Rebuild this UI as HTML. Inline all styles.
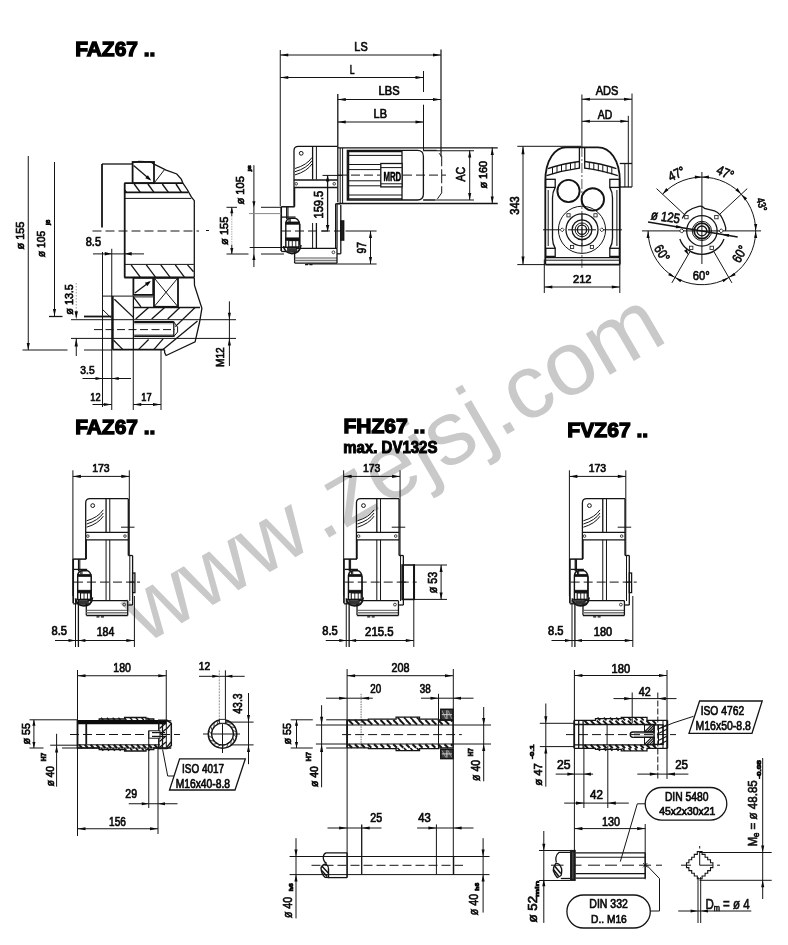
<!DOCTYPE html>
<html><head><meta charset="utf-8"><title>FAZ67 / FHZ67 / FVZ67</title>
<style>
html,body{margin:0;padding:0;background:#fff;}
body{width:788px;height:945px;overflow:hidden;font-family:"Liberation Sans",sans-serif;}
svg{display:block;}
svg text{font-family:"Liberation Sans",sans-serif;}

</style></head><body>
<svg width="788" height="945" viewBox="0 0 788 945" style="filter:grayscale(1)">
<rect x="0" y="0" width="788" height="945" fill="#ffffff"/>
<g transform="translate(144.5,644.7) rotate(-30.1)" fill="#c9c9c9"><text x="0" y="0" font-size="91">www</text><text x="205.3" y="0" font-size="90.4">.zejsj.com</text></g>
<text x="75.15" y="55.75" font-size="20.11" textLength="80.2" lengthAdjust="spacingAndGlyphs" fill="#000" font-weight="bold" stroke="#000" stroke-width="1.3">FAZ67 ..</text>
<text x="75.15" y="433.75" font-size="19.97" textLength="80.2" lengthAdjust="spacingAndGlyphs" fill="#000" font-weight="bold" stroke="#000" stroke-width="1.3">FAZ67 ..</text>
<text x="343.45" y="433.15" font-size="19.97" textLength="81.9" lengthAdjust="spacingAndGlyphs" fill="#000" font-weight="bold" stroke="#000" stroke-width="1.3">FHZ67 ..</text>
<text x="343.3" y="452.9" font-size="15.92" textLength="94.1" lengthAdjust="spacingAndGlyphs" fill="#000" font-weight="bold" stroke="#000" stroke-width="1.0">max. DV132S</text>
<text x="567.35" y="436.55" font-size="20.25" textLength="80.9" lengthAdjust="spacingAndGlyphs" fill="#000" font-weight="bold" stroke="#000" stroke-width="1.3">FVZ67 ..</text>
<line x1="28.25" y1="156" x2="28.25" y2="350" stroke="#141414" stroke-width="1.0"/>
<polygon points="28.25,350 26.7,343 29.8,343" fill="#0a0a0a"/>
<line x1="22.5" y1="350" x2="67.5" y2="350" stroke="#141414" stroke-width="1.0"/>
<line x1="84" y1="350" x2="112.5" y2="350" stroke="#141414" stroke-width="1.0"/>
<line x1="54.5" y1="162" x2="54.5" y2="316" stroke="#141414" stroke-width="1.0"/>
<polygon points="54.5,316 52.95,309 56.05,309" fill="#0a0a0a"/>
<line x1="49" y1="316.5" x2="62.5" y2="316.5" stroke="#141414" stroke-width="1.3"/>
<text transform="translate(23.65,249.55) rotate(-90)" font-size="10.2" textLength="28" lengthAdjust="spacingAndGlyphs" fill="#0a0a0a" stroke="#0a0a0a" stroke-width="0.7">ø 155</text>
<text transform="translate(45.25,257.15) rotate(-90)" font-size="11.73" textLength="26.3" lengthAdjust="spacingAndGlyphs" fill="#0a0a0a" stroke="#0a0a0a" stroke-width="0.7">ø 105</text>
<text transform="translate(49.65,225.05) rotate(-90)" font-size="5.31" textLength="5.2" lengthAdjust="spacingAndGlyphs" fill="#0a0a0a" font-weight="bold" stroke="#0a0a0a" stroke-width="0.7">j6</text>
<line x1="102" y1="164" x2="102" y2="227.5" stroke="#141414" stroke-width="1.8"/>
<line x1="102" y1="164" x2="132.6" y2="164" stroke="#141414" stroke-width="1.3"/>
<rect x="132.6" y="162" width="21.4" height="21.2" rx="0" fill="none" stroke="#141414" stroke-width="1.8"/>
<line x1="133.6" y1="165.5" x2="150" y2="179.5" stroke="#141414" stroke-width="1.3"/>
<polygon points="151.2,180.6 145.29,178.31 147.92,175.17" fill="#0a0a0a"/>
<polyline points="132.6,162.6 138.7,161.4 150.9,161.9 154,164.1 166.1,170.2 176.8,174 181.4,179.4 182.9,183.2 187.5,190 191.3,196.9 194.3,200.7 194.3,277.5" fill="none" stroke="#141414" stroke-width="1.3" stroke-linejoin="miter"/>
<line x1="154" y1="183.2" x2="164.6" y2="169.5" stroke="#141414" stroke-width="1.0"/>
<line x1="124.3" y1="183.2" x2="182.9" y2="183.2" stroke="#141414" stroke-width="1.8"/>
<line x1="124.3" y1="192.3" x2="188.2" y2="192.3" stroke="#141414" stroke-width="1.8"/>
<line x1="125" y1="198.4" x2="191.3" y2="198.4" stroke="#141414" stroke-width="1.0"/>
<line x1="134.2" y1="184" x2="140.3" y2="192.3" stroke="#141414" stroke-width="1.4"/>
<line x1="147.9" y1="184" x2="154" y2="192.3" stroke="#141414" stroke-width="1.4"/>
<line x1="162.3" y1="184" x2="168.4" y2="192.3" stroke="#141414" stroke-width="1.4"/>
<line x1="176" y1="184" x2="181.4" y2="192.3" stroke="#141414" stroke-width="1.4"/>
<line x1="124.3" y1="189.3" x2="126.5" y2="192.3" stroke="#141414" stroke-width="1.2"/>
<line x1="124.7" y1="183.2" x2="124.7" y2="277.5" stroke="#141414" stroke-width="1.8"/>
<line x1="92.5" y1="231" x2="199" y2="231" stroke="#141414" stroke-width="1.0" stroke-dasharray="9 4"/>
<line x1="206" y1="230.5" x2="209" y2="230.5" stroke="#141414" stroke-width="1.0"/>
<text x="85.75" y="246.25" font-size="12.15" textLength="15.3" lengthAdjust="spacingAndGlyphs" fill="#0a0a0a" stroke="#0a0a0a" stroke-width="0.7">8.5</text>
<line x1="93" y1="253.9" x2="144" y2="253.9" stroke="#141414" stroke-width="1.0"/>
<polygon points="111.75,253.75 104.75,255.4 104.75,252.1" fill="#0a0a0a"/>
<polygon points="124.7,253.75 131.7,252.1 131.7,255.4" fill="#0a0a0a"/>
<line x1="102.5" y1="252" x2="102.5" y2="407" stroke="#141414" stroke-width="1.0"/>
<line x1="111.75" y1="248.75" x2="111.75" y2="410" stroke="#141414" stroke-width="1.0"/>
<line x1="133.25" y1="350" x2="133.25" y2="410" stroke="#141414" stroke-width="1.0"/>
<line x1="161" y1="350" x2="161" y2="410" stroke="#141414" stroke-width="1.0"/>
<line x1="125" y1="264.4" x2="193.8" y2="264.4" stroke="#141414" stroke-width="1.0"/>
<line x1="124.3" y1="277.5" x2="194" y2="277.5" stroke="#141414" stroke-width="1.8"/>
<line x1="131.1" y1="264.9" x2="140.3" y2="277.1" stroke="#141414" stroke-width="1.3"/>
<line x1="146.3" y1="264.9" x2="155.5" y2="277.1" stroke="#141414" stroke-width="1.3"/>
<line x1="160.8" y1="264.9" x2="170" y2="277.1" stroke="#141414" stroke-width="1.3"/>
<line x1="175.3" y1="264.9" x2="184.4" y2="277.1" stroke="#141414" stroke-width="1.3"/>
<line x1="187.5" y1="264.9" x2="193.5" y2="271.8" stroke="#141414" stroke-width="1.3"/>
<polyline points="194.3,277.5 194.5,285.5 201.9,308.3 199.6,322 195.1,341.8 166.1,355.5 164.6,352.5 164.6,350" fill="none" stroke="#141414" stroke-width="1.3" stroke-linejoin="miter"/>
<rect x="133.4" y="277.8" width="19.8" height="17.1" rx="0" fill="none" stroke="#141414" stroke-width="1.8"/>
<line x1="134.9" y1="293.1" x2="149.5" y2="282" stroke="#141414" stroke-width="1.3"/>
<polygon points="150.9,280.9 147.34,286.15 144.87,282.87" fill="#0a0a0a"/>
<rect x="154" y="277.8" width="24" height="29" rx="0" fill="none" stroke="#141414" stroke-width="1.8"/>
<line x1="154" y1="277.8" x2="178" y2="306.8" stroke="#141414" stroke-width="1.0"/>
<line x1="154" y1="306.8" x2="178" y2="277.8" stroke="#141414" stroke-width="1.0"/>
<line x1="133.4" y1="296.9" x2="141" y2="306.8" stroke="#141414" stroke-width="1.3"/>
<line x1="133.4" y1="296.9" x2="153.2" y2="296.9" stroke="#141414" stroke-width="1.0"/>
<line x1="102.2" y1="296.1" x2="133.4" y2="296.1" stroke="#141414" stroke-width="1.0"/>
<line x1="112.8" y1="296.1" x2="112.8" y2="349.7" stroke="#141414" stroke-width="1.8"/>
<line x1="114.4" y1="299.2" x2="133.4" y2="317.4" stroke="#141414" stroke-width="1.3"/>
<line x1="102.9" y1="309.8" x2="110.6" y2="317.4" stroke="#141414" stroke-width="1.0"/>
<line x1="84" y1="316.5" x2="111.5" y2="316.5" stroke="#141414" stroke-width="1.8"/>
<line x1="133.4" y1="296.1" x2="133.4" y2="349.7" stroke="#141414" stroke-width="1.3"/>
<line x1="133.4" y1="307.5" x2="200" y2="307.5" stroke="#141414" stroke-width="1.3"/>
<line x1="148.6" y1="307.5" x2="135.7" y2="319" stroke="#141414" stroke-width="1.3"/>
<line x1="164.6" y1="307.5" x2="151.7" y2="319" stroke="#141414" stroke-width="1.3"/>
<line x1="179.8" y1="307.5" x2="167.7" y2="319" stroke="#141414" stroke-width="1.3"/>
<line x1="195.1" y1="307.5" x2="175.3" y2="326.6" stroke="#141414" stroke-width="1.3"/>
<line x1="197.5" y1="321" x2="163" y2="349.5" stroke="#141414" stroke-width="1.3"/>
<line x1="71" y1="319.7" x2="236" y2="319.7" stroke="#141414" stroke-width="1.0"/>
<line x1="71" y1="338.4" x2="236" y2="338.4" stroke="#141414" stroke-width="1.0"/>
<line x1="134.2" y1="322" x2="173.8" y2="322" stroke="#141414" stroke-width="1.8"/>
<line x1="134.2" y1="336.2" x2="173.8" y2="336.2" stroke="#141414" stroke-width="1.8"/>
<line x1="134.2" y1="323.8" x2="173.8" y2="323.8" stroke="#666" stroke-width="0.6"/>
<line x1="134.2" y1="334.6" x2="173.8" y2="334.6" stroke="#666" stroke-width="0.6"/>
<line x1="173.8" y1="321.5" x2="173.8" y2="337" stroke="#141414" stroke-width="1.3"/>
<polyline points="173.8,322 177.6,327 177.6,332 173.8,336.5" fill="none" stroke="#141414" stroke-width="1.0" stroke-linejoin="miter"/>
<line x1="94" y1="329.6" x2="175" y2="329.6" stroke="#141414" stroke-width="1.0" stroke-dasharray="8 3.5"/>
<line x1="112.8" y1="349.7" x2="164.6" y2="349.7" stroke="#141414" stroke-width="1.8"/>
<line x1="113.6" y1="340.3" x2="122.7" y2="349.4" stroke="#141414" stroke-width="1.3"/>
<line x1="148.6" y1="339.5" x2="138.7" y2="349.4" stroke="#141414" stroke-width="1.3"/>
<line x1="163.1" y1="338.8" x2="154" y2="349.4" stroke="#141414" stroke-width="1.3"/>
<text transform="translate(73.25,314.65) rotate(-90)" font-size="11.03" textLength="30.5" lengthAdjust="spacingAndGlyphs" fill="#0a0a0a" stroke="#0a0a0a" stroke-width="0.7">ø 13.5</text>
<line x1="76.25" y1="283" x2="76.25" y2="319" stroke="#777" stroke-width="0.7" stroke-dasharray="1.5 1.5"/>
<polygon points="76.25,319.3 74.6,311.3 77.9,311.3" fill="#0a0a0a"/>
<polygon points="76.25,338.6 77.9,346.6 74.6,346.6" fill="#0a0a0a"/>
<line x1="76.25" y1="338" x2="76.25" y2="356" stroke="#141414" stroke-width="1.0"/>
<text x="80.35" y="373.65" font-size="11.59" textLength="14.3" lengthAdjust="spacingAndGlyphs" fill="#0a0a0a" stroke="#0a0a0a" stroke-width="0.7">3.5</text>
<line x1="82.5" y1="378.5" x2="131" y2="378.5" stroke="#141414" stroke-width="1.0"/>
<polygon points="102.5,378.5 95.5,380.05 95.5,376.95" fill="#0a0a0a"/>
<polygon points="111.75,378.5 118.75,376.95 118.75,380.05" fill="#0a0a0a"/>
<text x="90.35" y="400.9" font-size="11.24" textLength="10.3" lengthAdjust="spacingAndGlyphs" fill="#0a0a0a" stroke="#0a0a0a" stroke-width="0.7">12</text>
<text x="141.35" y="400.9" font-size="11.24" textLength="10.3" lengthAdjust="spacingAndGlyphs" fill="#0a0a0a" stroke="#0a0a0a" stroke-width="0.7">17</text>
<line x1="92.5" y1="404.5" x2="111.75" y2="404.5" stroke="#141414" stroke-width="1.0"/>
<polygon points="111.75,404.5 103.75,406.05 103.75,402.95" fill="#0a0a0a"/>
<line x1="133.25" y1="404.5" x2="161" y2="404.5" stroke="#141414" stroke-width="1.0"/>
<polygon points="133.25,404.5 141.25,402.95 141.25,406.05" fill="#0a0a0a"/>
<polygon points="161,404.5 153,406.05 153,402.95" fill="#0a0a0a"/>
<line x1="229.4" y1="301.3" x2="229.4" y2="366" stroke="#141414" stroke-width="1.0"/>
<polygon points="229.4,319.7 227.85,312.7 230.95,312.7" fill="#0a0a0a"/>
<polygon points="229.4,338.4 230.95,345.4 227.85,345.4" fill="#0a0a0a"/>
<text transform="translate(223.95,367.05) rotate(-90)" font-size="11.45" textLength="19.7" lengthAdjust="spacingAndGlyphs" fill="#0a0a0a" stroke="#0a0a0a" stroke-width="0.7">M12</text>
<path d="M294,206.6 L294,150.5 Q294,146.4 298.5,146.4 L337.6,146.4" fill="none" stroke="#141414" stroke-width="1.3"/>
<line x1="312.6" y1="146.4" x2="312.6" y2="179.6" stroke="#141414" stroke-width="1.3"/>
<line x1="316.4" y1="146.4" x2="316.4" y2="179.6" stroke="#141414" stroke-width="1.0"/>
<line x1="312.6" y1="223" x2="312.6" y2="248" stroke="#141414" stroke-width="1.0"/>
<line x1="316.4" y1="223" x2="316.4" y2="248" stroke="#141414" stroke-width="1.3"/>
<circle cx="301.2" cy="153.3" r="1.9" fill="none" stroke="#141414" stroke-width="1.0"/>
<path d="M295,168.5 Q307,165 312,157.5" fill="none" stroke="#141414" stroke-width="1.0"/>
<path d="M295,171.7 Q307,168.2 312,160.7" fill="none" stroke="#141414" stroke-width="1.0"/>
<path d="M295,174.9 Q307,171.4 312,163.9" fill="none" stroke="#141414" stroke-width="1.0"/>
<line x1="294" y1="180" x2="337.6" y2="180" stroke="#141414" stroke-width="1.3"/>
<line x1="294" y1="187.5" x2="337.6" y2="187.5" stroke="#141414" stroke-width="1.3"/>
<circle cx="296.2" cy="183.8" r="1.3" fill="none" stroke="#141414" stroke-width="0.8"/>
<circle cx="334.2" cy="183.8" r="1.3" fill="none" stroke="#141414" stroke-width="0.8"/>
<line x1="294.6" y1="187.5" x2="294.6" y2="206.6" stroke="#141414" stroke-width="1.3"/>
<line x1="281.2" y1="206.6" x2="281.2" y2="251" stroke="#141414" stroke-width="1.7"/>
<line x1="281.2" y1="206.8" x2="294.6" y2="206.8" stroke="#141414" stroke-width="1.5"/>
<line x1="286.7" y1="206.8" x2="286.7" y2="219" stroke="#141414" stroke-width="1.3"/>
<line x1="288" y1="206.8" x2="288" y2="219" stroke="#141414" stroke-width="1.0"/>
<line x1="282" y1="217.1" x2="295.5" y2="217.1" stroke="#141414" stroke-width="1.3"/>
<line x1="281.2" y1="251.5" x2="286" y2="251.5" stroke="#141414" stroke-width="1.3"/>
<path d="M285.8,247 L285.8,223 Q286.5,218.8 290,218.4 L295.5,218.4 Q299,219.5 299.6,224 L299.6,245" fill="none" stroke="#141414" stroke-width="1.4"/>
<rect x="285.8" y="221.9" width="13.8" height="2.5" rx="0" fill="#111" stroke="#141414" stroke-width="0.5"/>
<rect x="285.8" y="237.8" width="13.8" height="2.8" rx="0" fill="#111" stroke="#141414" stroke-width="0.5"/>
<line x1="289" y1="218.5" x2="289" y2="222" stroke="#141414" stroke-width="1.0"/>
<line x1="290.2" y1="218.5" x2="290.2" y2="222" stroke="#141414" stroke-width="1.0"/>
<rect x="288.7" y="240.6" width="10.1" height="6.4" rx="0" fill="none" stroke="#141414" stroke-width="1.1"/>
<line x1="292.3" y1="240.6" x2="292.3" y2="247" stroke="#141414" stroke-width="0.9"/>
<line x1="295.8" y1="240.6" x2="295.8" y2="247" stroke="#141414" stroke-width="0.9"/>
<path d="M283.6,246 Q284.5,253 292,253.6 Q300,253.6 300.9,245" fill="none" stroke="#141414" stroke-width="1.8"/>
<rect x="287.3" y="248.3" width="9.7" height="4" rx="0" fill="#333" stroke="#141414" stroke-width="0.5"/>
<line x1="284.5" y1="247.3" x2="299.5" y2="247.3" stroke="#141414" stroke-width="1.5"/>
<line x1="299.9" y1="224" x2="299.9" y2="247" stroke="#141414" stroke-width="1.0"/>
<line x1="296" y1="248.4" x2="337" y2="248.4" stroke="#141414" stroke-width="1.3"/>
<line x1="294.6" y1="251.5" x2="294.6" y2="263" stroke="#141414" stroke-width="1.3"/>
<line x1="294.6" y1="258" x2="337" y2="258" stroke="#555" stroke-width="1.0"/>
<line x1="294.6" y1="260.5" x2="337" y2="260.5" stroke="#777" stroke-width="1.6"/>
<line x1="294.6" y1="263.2" x2="337" y2="263.2" stroke="#141414" stroke-width="1.3"/>
<line x1="337" y1="248.4" x2="337" y2="263.2" stroke="#141414" stroke-width="1.3"/>
<circle cx="333.4" cy="252.3" r="1.4" fill="none" stroke="#141414" stroke-width="0.8"/>
<line x1="305" y1="264.6" x2="313" y2="264.6" stroke="#141414" stroke-width="1.4" stroke-dasharray="3 1.5"/>
<line x1="282" y1="231" x2="345" y2="231" stroke="#141414" stroke-width="1.0" stroke-dasharray="9 4"/>
<line x1="337" y1="203.5" x2="337" y2="248.4" stroke="#141414" stroke-width="1.3"/>
<line x1="340.8" y1="205" x2="340.8" y2="253.8" stroke="#141414" stroke-width="1.3"/>
<line x1="335.5" y1="203.8" x2="340.8" y2="203.8" stroke="#141414" stroke-width="1.3"/>
<line x1="335.5" y1="203.8" x2="335.5" y2="248.4" stroke="#141414" stroke-width="1.0"/>
<line x1="337" y1="253.8" x2="340.8" y2="253.8" stroke="#141414" stroke-width="1.3"/>
<rect x="340.8" y="221" width="2.8" height="19" rx="0" fill="#222" stroke="#141414" stroke-width="1.6"/>
<line x1="337.8" y1="94" x2="337.8" y2="202" stroke="#141414" stroke-width="1.3"/>
<line x1="345.5" y1="231" x2="376.6" y2="231" stroke="#141414" stroke-width="1.0"/>
<line x1="370.5" y1="231" x2="370.5" y2="264" stroke="#141414" stroke-width="1.0"/>
<polygon points="370.5,231 372.05,238 368.95,238" fill="#0a0a0a"/>
<polygon points="370.5,264 368.95,257 372.05,257" fill="#0a0a0a"/>
<line x1="306.5" y1="264" x2="376.6" y2="264" stroke="#141414" stroke-width="1.0"/>
<text transform="translate(366.35,253.45) rotate(-90)" font-size="12.85" textLength="11.5" lengthAdjust="spacingAndGlyphs" fill="#0a0a0a" stroke="#0a0a0a" stroke-width="0.7">97</text>
<text transform="translate(322.95,218.45) rotate(-90)" font-size="12.85" textLength="27.5" lengthAdjust="spacingAndGlyphs" fill="#0a0a0a" stroke="#0a0a0a" stroke-width="0.7">159.5</text>
<line x1="327.6" y1="175.4" x2="327.6" y2="231" stroke="#141414" stroke-width="1.3"/>
<polygon points="327.6,175.4 329.35,181.4 325.85,181.4" fill="#0a0a0a"/>
<polygon points="327.6,231 325.85,225 329.35,225" fill="#0a0a0a"/>
<line x1="322.5" y1="175.4" x2="342.3" y2="175.4" stroke="#141414" stroke-width="1.0"/>
<line x1="321.8" y1="231" x2="328" y2="231" stroke="#141414" stroke-width="1.0"/>
<line x1="338" y1="147.9" x2="497.75" y2="147.9" stroke="#141414" stroke-width="1.3"/>
<line x1="337" y1="203.5" x2="497.75" y2="203.5" stroke="#141414" stroke-width="1.3"/>
<line x1="340.2" y1="148" x2="340.2" y2="203.5" stroke="#141414" stroke-width="1.0"/>
<line x1="342.6" y1="148" x2="342.6" y2="203.5" stroke="#141414" stroke-width="1.0"/>
<path d="M347.3,150.3 L417.4,150.3 Q423.4,150.3 423.4,156.3 L423.4,194 Q423.4,200 417.4,200 L347.3,200 Z" fill="none" stroke="#141414" stroke-width="1.3"/>
<line x1="348.3" y1="155.4" x2="402" y2="155.4" stroke="#141414" stroke-width="1.0"/>
<line x1="348.3" y1="164.5" x2="402" y2="164.5" stroke="#141414" stroke-width="1.0"/>
<line x1="348.3" y1="169.6" x2="402" y2="169.6" stroke="#141414" stroke-width="1.0"/>
<line x1="348.3" y1="180.8" x2="402" y2="180.8" stroke="#141414" stroke-width="1.0"/>
<line x1="348.3" y1="185.8" x2="402" y2="185.8" stroke="#141414" stroke-width="1.0"/>
<line x1="348.3" y1="195" x2="402" y2="195" stroke="#141414" stroke-width="1.0"/>
<line x1="348.6" y1="150.3" x2="348.6" y2="200" stroke="#141414" stroke-width="1.3"/>
<line x1="347.3" y1="151.6" x2="402" y2="151.6" stroke="#141414" stroke-width="1.2"/>
<line x1="347.3" y1="198.8" x2="402" y2="198.8" stroke="#141414" stroke-width="1.2"/>
<line x1="402" y1="150.3" x2="402" y2="200" stroke="#141414" stroke-width="1.3"/>
<rect x="380.8" y="163.5" width="21.3" height="23.4" rx="0" fill="#fff" stroke="#141414" stroke-width="1.3"/>
<line x1="380.8" y1="167.6" x2="402.1" y2="167.6" stroke="#141414" stroke-width="1.0"/>
<line x1="380.8" y1="183.8" x2="402.1" y2="183.8" stroke="#141414" stroke-width="1.0"/>
<text x="383.45" y="180.55" font-size="12.15" textLength="17.8" lengthAdjust="spacingAndGlyphs" fill="#000" font-weight="bold" stroke="#000" stroke-width="0.5">MRD</text>
<line x1="338" y1="175.1" x2="380" y2="175.1" stroke="#141414" stroke-width="1.0" stroke-dasharray="9 4"/>
<line x1="403" y1="175.1" x2="446" y2="175.1" stroke="#141414" stroke-width="1.0" stroke-dasharray="9 4"/>
<polyline points="423.4,150.3 436.6,150.3 441.7,156.4 441.7,192.9 436.6,200 423.4,200" fill="none" stroke="#141414" stroke-width="1.0" stroke-linejoin="miter" stroke-dasharray="14 3"/>
<line x1="469.7" y1="150.3" x2="469.7" y2="200" stroke="#141414" stroke-width="1.0"/>
<polygon points="469.7,150.6 471.25,157.6 468.15,157.6" fill="#0a0a0a"/>
<polygon points="469.7,200 468.15,193 471.25,193" fill="#0a0a0a"/>
<line x1="423" y1="150.75" x2="474" y2="150.75" stroke="#141414" stroke-width="1.0"/>
<line x1="423" y1="200" x2="474" y2="200" stroke="#141414" stroke-width="1.0"/>
<text transform="translate(465.25,181.45) rotate(-90)" font-size="13.13" textLength="14.6" lengthAdjust="spacingAndGlyphs" fill="#0a0a0a" stroke="#0a0a0a" stroke-width="0.7">AC</text>
<line x1="492.25" y1="147.5" x2="492.25" y2="203.5" stroke="#141414" stroke-width="1.0"/>
<polygon points="492.25,147.9 493.8,154.9 490.7,154.9" fill="#0a0a0a"/>
<polygon points="492.25,203.5 490.7,196.5 493.8,196.5" fill="#0a0a0a"/>
<text transform="translate(487.05,188.55) rotate(-90)" font-size="10.47" textLength="27.7" lengthAdjust="spacingAndGlyphs" fill="#0a0a0a" stroke="#0a0a0a" stroke-width="0.7">ø 160</text>
<line x1="280.25" y1="55" x2="441" y2="55" stroke="#141414" stroke-width="1.0"/>
<polygon points="280.25,55 288.25,53.45 288.25,56.55" fill="#0a0a0a"/>
<polygon points="441,55 433,56.55 433,53.45" fill="#0a0a0a"/>
<text x="354.35" y="50.65" font-size="12.99" textLength="13.3" lengthAdjust="spacingAndGlyphs" fill="#0a0a0a" stroke="#0a0a0a" stroke-width="0.7">LS</text>
<line x1="280.25" y1="77.5" x2="423.5" y2="77.5" stroke="#141414" stroke-width="1.0"/>
<polygon points="280.25,77.5 288.25,75.95 288.25,79.05" fill="#0a0a0a"/>
<polygon points="423.5,77.5 415.5,79.05 415.5,75.95" fill="#0a0a0a"/>
<text x="349.85" y="73.65" font-size="12.99" textLength="4.8" lengthAdjust="spacingAndGlyphs" fill="#0a0a0a" stroke="#0a0a0a" stroke-width="0.7">L</text>
<line x1="337.75" y1="99.5" x2="441" y2="99.5" stroke="#141414" stroke-width="1.0"/>
<polygon points="337.75,99.5 345.75,97.95 345.75,101.05" fill="#0a0a0a"/>
<polygon points="441,99.5 433,101.05 433,97.95" fill="#0a0a0a"/>
<text x="378.55" y="95.15" font-size="11.87" textLength="21" lengthAdjust="spacingAndGlyphs" fill="#0a0a0a" stroke="#0a0a0a" stroke-width="0.7">LBS</text>
<line x1="337.75" y1="122" x2="423.5" y2="122" stroke="#141414" stroke-width="1.0"/>
<polygon points="337.75,122 345.75,120.45 345.75,123.55" fill="#0a0a0a"/>
<polygon points="423.5,122 415.5,123.55 415.5,120.45" fill="#0a0a0a"/>
<text x="373.55" y="117.95" font-size="12.71" textLength="13.4" lengthAdjust="spacingAndGlyphs" fill="#0a0a0a" stroke="#0a0a0a" stroke-width="0.7">LB</text>
<line x1="280.25" y1="50" x2="280.25" y2="206" stroke="#141414" stroke-width="1.0"/>
<line x1="423.5" y1="71" x2="423.5" y2="92" stroke="#141414" stroke-width="1.0"/>
<line x1="423.5" y1="104.7" x2="423.5" y2="150.3" stroke="#141414" stroke-width="1.0"/>
<line x1="441" y1="49.5" x2="441" y2="156.8" stroke="#141414" stroke-width="1.2"/>
<line x1="253.9" y1="165.2" x2="253.9" y2="267.1" stroke="#141414" stroke-width="1.0"/>
<text transform="translate(244.45,204.55) rotate(-90)" font-size="11.31" textLength="28.4" lengthAdjust="spacingAndGlyphs" fill="#0a0a0a" stroke="#0a0a0a" stroke-width="0.7">ø 105</text>
<text transform="translate(250.65,171.15) rotate(-90)" font-size="3.91" textLength="5.8" lengthAdjust="spacingAndGlyphs" fill="#0a0a0a" font-weight="bold" stroke="#0a0a0a" stroke-width="0.7">j6</text>
<line x1="261" y1="207.3" x2="281.5" y2="207.3" stroke="#141414" stroke-width="1.0"/>
<line x1="249" y1="213.6" x2="281" y2="213.6" stroke="#888" stroke-width="1.0"/>
<line x1="249.7" y1="247.5" x2="284" y2="247.5" stroke="#141414" stroke-width="1.0"/>
<line x1="226.5" y1="254" x2="248.5" y2="254" stroke="#141414" stroke-width="1.0"/>
<line x1="261" y1="254" x2="284" y2="254" stroke="#141414" stroke-width="1.0"/>
<polygon points="253.9,207.3 252.35,201.3 255.45,201.3" fill="#0a0a0a"/>
<polygon points="253.9,254 255.45,260 252.35,260" fill="#0a0a0a"/>
<line x1="231.8" y1="207.3" x2="231.8" y2="216" stroke="#141414" stroke-width="1.0"/>
<line x1="231.8" y1="216" x2="231.8" y2="245" stroke="#999" stroke-width="0.8" stroke-dasharray="1.5 1"/>
<line x1="231.8" y1="245" x2="231.8" y2="254" stroke="#141414" stroke-width="1.0"/>
<line x1="226.5" y1="207.3" x2="237" y2="207.3" stroke="#141414" stroke-width="1.0"/>
<polygon points="231.8,207.3 233.35,213.3 230.25,213.3" fill="#0a0a0a"/>
<polygon points="231.8,254 230.25,248 233.35,248" fill="#0a0a0a"/>
<text transform="translate(227.55,244.95) rotate(-90)" font-size="11.73" textLength="28.4" lengthAdjust="spacingAndGlyphs" fill="#0a0a0a" stroke="#0a0a0a" stroke-width="0.7">ø 155</text>
<path d="M545.3,264.6 L545.3,181 C545.3,160 555,147.3 566,147.3 L598,147.3 C610,147.3 619.8,160 619.8,181 L619.8,264.6" fill="none" stroke="#141414" stroke-width="1.8"/>
<line x1="545.3" y1="264.6" x2="619.8" y2="264.6" stroke="#141414" stroke-width="1.8"/>
<line x1="581.9" y1="94.5" x2="581.9" y2="147" stroke="#141414" stroke-width="1.0"/>
<line x1="581.9" y1="147" x2="581.9" y2="268" stroke="#141414" stroke-width="0.7" stroke-dasharray="10 2 2 2"/>
<path d="M547.9,168.7 Q563,163.5 579.4,161.5" fill="none" stroke="#141414" stroke-width="1.3"/>
<path d="M546.5,175.6 Q562,170.5 579.4,168.1" fill="none" stroke="#141414" stroke-width="1.3"/>
<line x1="552.5" y1="167.05" x2="552.5" y2="174.05" stroke="#141414" stroke-width="1.0"/>
<line x1="557" y1="165.89" x2="557" y2="172.89" stroke="#141414" stroke-width="1.0"/>
<line x1="561.5" y1="164.8" x2="561.5" y2="171.8" stroke="#141414" stroke-width="1.0"/>
<line x1="566" y1="163.77" x2="566" y2="170.77" stroke="#141414" stroke-width="1.0"/>
<line x1="570.5" y1="162.81" x2="570.5" y2="169.81" stroke="#141414" stroke-width="1.0"/>
<line x1="575" y1="161.91" x2="575" y2="168.91" stroke="#141414" stroke-width="1.0"/>
<path d="M616.4,168.7 Q601.3,163.5 584.7,161.5" fill="none" stroke="#141414" stroke-width="1.3"/>
<path d="M617.8,175.6 Q602.3,170.5 584.7,168.1" fill="none" stroke="#141414" stroke-width="1.3"/>
<line x1="611.8" y1="167.25" x2="611.8" y2="174.25" stroke="#141414" stroke-width="1.0"/>
<line x1="607.3" y1="166.22" x2="607.3" y2="173.22" stroke="#141414" stroke-width="1.0"/>
<line x1="602.8" y1="165.19" x2="602.8" y2="172.19" stroke="#141414" stroke-width="1.0"/>
<line x1="598.3" y1="164.16" x2="598.3" y2="171.16" stroke="#141414" stroke-width="1.0"/>
<line x1="593.8" y1="163.13" x2="593.8" y2="170.13" stroke="#141414" stroke-width="1.0"/>
<line x1="589.3" y1="162.11" x2="589.3" y2="169.11" stroke="#141414" stroke-width="1.0"/>
<line x1="579.4" y1="147.3" x2="579.4" y2="168.7" stroke="#141414" stroke-width="1.3"/>
<line x1="584.7" y1="147.3" x2="584.7" y2="168.7" stroke="#141414" stroke-width="1.3"/>
<rect x="545.7" y="179.3" width="9.5" height="8.1" rx="0" fill="none" stroke="#141414" stroke-width="1.3"/>
<rect x="545.7" y="248.3" width="9.5" height="8.1" rx="0" fill="none" stroke="#141414" stroke-width="1.3"/>
<rect x="609.8" y="179.3" width="9.6" height="8.1" rx="0" fill="none" stroke="#141414" stroke-width="1.3"/>
<rect x="609.8" y="248.3" width="9.6" height="8.1" rx="0" fill="none" stroke="#141414" stroke-width="1.3"/>
<path d="M555.2,187.4 Q552.5,192 552.5,198 L552.5,238 Q552.5,244 555.2,248.3" fill="none" stroke="#141414" stroke-width="1.3"/>
<path d="M609.8,187.4 Q612.5,192 612.5,198 L612.5,238 Q612.5,244 609.8,248.3" fill="none" stroke="#141414" stroke-width="1.3"/>
<line x1="548.2" y1="190" x2="548.2" y2="246" stroke="#141414" stroke-width="1.0"/>
<line x1="616.9" y1="190" x2="616.9" y2="246" stroke="#141414" stroke-width="1.0"/>
<line x1="546" y1="257.6" x2="619.5" y2="257.6" stroke="#141414" stroke-width="1.3"/>
<line x1="546" y1="260.2" x2="619.5" y2="260.2" stroke="#141414" stroke-width="1.0"/>
<circle cx="568.5" cy="191" r="11.1" fill="none" stroke="#141414" stroke-width="1.9"/>
<circle cx="592.8" cy="199.4" r="11.2" fill="none" stroke="#141414" stroke-width="1.9"/>
<circle cx="582" cy="229.8" r="23.6" fill="none" stroke="#141414" stroke-width="1.0"/>
<circle cx="582" cy="229.8" r="16" fill="none" stroke="#141414" stroke-width="1.3"/>
<circle cx="582" cy="229.8" r="9.9" fill="none" stroke="#141414" stroke-width="1.3"/>
<circle cx="582" cy="229.8" r="6.9" fill="none" stroke="#141414" stroke-width="1.0"/>
<circle cx="582" cy="229.8" r="4.6" fill="none" stroke="#141414" stroke-width="1.3"/>
<line x1="543" y1="229.8" x2="560" y2="229.8" stroke="#141414" stroke-width="1.0"/>
<line x1="568" y1="229.8" x2="596" y2="229.8" stroke="#141414" stroke-width="1.0"/>
<line x1="603" y1="229.8" x2="622" y2="229.8" stroke="#141414" stroke-width="1.0"/>
<line x1="582" y1="214" x2="582" y2="246" stroke="#141414" stroke-width="1.0"/>
<polygon points="599.8,229.8 601.8,227.8 603.8,229.8 601.8,231.8" fill="none" stroke="#141414" stroke-width="0.8" stroke-linejoin="miter"/>
<polygon points="560.2,229.8 562.2,227.8 564.2,229.8 562.2,231.8" fill="none" stroke="#141414" stroke-width="0.8" stroke-linejoin="miter"/>
<rect x="566.9" y="213.72" width="3.2" height="3.2" rx="0" fill="none" stroke="#141414" stroke-width="0.8"/>
<rect x="593.9" y="213.72" width="3.2" height="3.2" rx="0" fill="none" stroke="#141414" stroke-width="0.8"/>
<rect x="590.3" y="245.35" width="3.2" height="3.2" rx="0" fill="none" stroke="#141414" stroke-width="0.8"/>
<rect x="570.5" y="245.35" width="3.2" height="3.2" rx="0" fill="none" stroke="#141414" stroke-width="0.8"/>
<line x1="624.9" y1="163.5" x2="624.9" y2="187" stroke="#141414" stroke-width="1.0"/>
<line x1="628.3" y1="115.8" x2="628.3" y2="187" stroke="#141414" stroke-width="1.0"/>
<line x1="632" y1="93.5" x2="632" y2="187" stroke="#141414" stroke-width="1.0"/>
<line x1="619.8" y1="163.5" x2="632" y2="163.5" stroke="#141414" stroke-width="1.3"/>
<line x1="619.8" y1="187" x2="632" y2="187" stroke="#141414" stroke-width="1.3"/>
<line x1="544.3" y1="287" x2="619.8" y2="287" stroke="#141414" stroke-width="1.0"/>
<polygon points="544.3,287 552.3,285.45 552.3,288.55" fill="#0a0a0a"/>
<polygon points="619.8,287 611.8,288.55 611.8,285.45" fill="#0a0a0a"/>
<line x1="544.3" y1="259.5" x2="544.3" y2="293" stroke="#141414" stroke-width="1.0"/>
<line x1="619.8" y1="259.5" x2="619.8" y2="293" stroke="#141414" stroke-width="1.0"/>
<text x="573.05" y="283.15" font-size="11.31" textLength="18.4" lengthAdjust="spacingAndGlyphs" fill="#0a0a0a" stroke="#0a0a0a" stroke-width="0.7">212</text>
<line x1="523" y1="146.3" x2="523" y2="264.6" stroke="#141414" stroke-width="1.0"/>
<polygon points="523,146.3 524.55,154.3 521.45,154.3" fill="#0a0a0a"/>
<polygon points="523,264.6 521.45,256.6 524.55,256.6" fill="#0a0a0a"/>
<line x1="517.3" y1="146.3" x2="581" y2="146.3" stroke="#141414" stroke-width="1.0"/>
<line x1="517.3" y1="264.6" x2="545" y2="264.6" stroke="#141414" stroke-width="1.0"/>
<text transform="translate(518.65,214.65) rotate(-90)" font-size="12.99" textLength="18.3" lengthAdjust="spacingAndGlyphs" fill="#0a0a0a" stroke="#0a0a0a" stroke-width="0.7">343</text>
<text x="595.75" y="95.15" font-size="13.13" textLength="22.7" lengthAdjust="spacingAndGlyphs" fill="#0a0a0a" stroke="#0a0a0a" stroke-width="0.7">ADS</text>
<line x1="581.9" y1="99.2" x2="632" y2="99.2" stroke="#141414" stroke-width="1.0"/>
<polygon points="581.9,99.2 589.9,97.65 589.9,100.75" fill="#0a0a0a"/>
<polygon points="632,99.2 624,100.75 624,97.65" fill="#0a0a0a"/>
<text x="597.85" y="118.55" font-size="13.27" textLength="14.5" lengthAdjust="spacingAndGlyphs" fill="#0a0a0a" stroke="#0a0a0a" stroke-width="0.7">AD</text>
<line x1="581.9" y1="121.3" x2="628.3" y2="121.3" stroke="#141414" stroke-width="1.0"/>
<polygon points="581.9,121.3 589.9,119.75 589.9,122.85" fill="#0a0a0a"/>
<polygon points="628.3,121.3 620.3,122.85 620.3,119.75" fill="#0a0a0a"/>
<path d="M648.1,230.9 A53.8,53.8 0 1 0 662.55,194.21" fill="none" stroke="#141414" stroke-width="1.0"/>
<line x1="642" y1="230.9" x2="761" y2="230.9" stroke="#141414" stroke-width="1.0"/>
<line x1="701.9" y1="172" x2="701.9" y2="264" stroke="#141414" stroke-width="1.0"/>
<line x1="684.35" y1="214.53" x2="656.56" y2="188.62" stroke="#141414" stroke-width="1.0"/>
<line x1="719.45" y1="214.53" x2="747.24" y2="188.62" stroke="#141414" stroke-width="1.0"/>
<line x1="689.9" y1="251.68" x2="671.9" y2="282.86" stroke="#141414" stroke-width="1.0"/>
<line x1="713.9" y1="251.68" x2="731.9" y2="282.86" stroke="#141414" stroke-width="1.0"/>
<polygon points="662.55,194.21 666.19,188.03 668.46,190.15" fill="#0a0a0a"/>
<polygon points="701.9,177.1 694.9,178.65 694.9,175.55" fill="#0a0a0a"/>
<polygon points="701.9,177.1 708.9,175.55 708.9,178.65" fill="#0a0a0a"/>
<polygon points="741.25,194.21 735.34,190.15 737.61,188.03" fill="#0a0a0a"/>
<polygon points="741.25,194.21 747.15,198.27 744.89,200.39" fill="#0a0a0a"/>
<polygon points="755.7,230.9 754.15,223.9 757.25,223.9" fill="#0a0a0a"/>
<polygon points="755.7,230.9 757.25,237.9 754.15,237.9" fill="#0a0a0a"/>
<polygon points="728.8,277.49 734.09,272.65 735.64,275.33" fill="#0a0a0a"/>
<polygon points="728.8,277.49 723.51,282.33 721.96,279.65" fill="#0a0a0a"/>
<polygon points="675,277.49 681.84,279.65 680.29,282.33" fill="#0a0a0a"/>
<polygon points="675,277.49 668.16,275.33 669.71,272.65" fill="#0a0a0a"/>
<polygon points="648.1,230.9 649.65,237.9 646.55,237.9" fill="#0a0a0a"/>
<circle cx="701.9" cy="230.9" r="4.9" fill="none" stroke="#141414" stroke-width="1.3"/>
<circle cx="701.9" cy="230.9" r="7.7" fill="none" stroke="#141414" stroke-width="1.7"/>
<circle cx="701.9" cy="230.9" r="9.6" fill="none" stroke="#141414" stroke-width="1.0"/>
<circle cx="701.9" cy="230.9" r="15.2" fill="none" stroke="#141414" stroke-width="1.3"/>
<path d="M679.82,238.94 A23.5,23.5 0 0 0 723.98,238.94" fill="none" stroke="#141414" stroke-width="1.3"/>
<path d="M682.2,218.5 Q686,209.5 698,206.6 Q701.5,205.2 704.5,208.3 L714.5,210.8 Q721,213 724.5,223.5 Q726.3,228 725.5,231" fill="none" stroke="#141414" stroke-width="1.3"/>
<rect x="684.7" y="215.4" width="3.4" height="3.4" rx="0" fill="#fff" stroke="#141414" stroke-width="0.8"/>
<rect x="714.7" y="215.4" width="3.4" height="3.4" rx="0" fill="#fff" stroke="#141414" stroke-width="0.8"/>
<rect x="689.5" y="246.2" width="3.4" height="3.4" rx="0" fill="#fff" stroke="#141414" stroke-width="0.8"/>
<rect x="710" y="246.2" width="3.4" height="3.4" rx="0" fill="#fff" stroke="#141414" stroke-width="0.8"/>
<polygon points="679.5,230.9 681.7,228.7 683.9,230.9 681.7,233.1" fill="#fff" stroke="#141414" stroke-width="0.9" stroke-linejoin="miter"/>
<polygon points="719,230.9 721.2,228.7 723.4,230.9 721.2,233.1" fill="#fff" stroke="#141414" stroke-width="0.9" stroke-linejoin="miter"/>
<line x1="648" y1="222" x2="737.7" y2="237" stroke="#141414" stroke-width="1.3"/>
<polygon points="683,227.8 675.84,228.17 676.35,225.12" fill="#0a0a0a"/>
<polygon points="722,234.4 729.16,234.03 728.65,237.08" fill="#0a0a0a"/>
<polygon points="688.5,255 684.07,250.63 686.93,248.98" fill="#0a0a0a"/>
<text transform="translate(665.5,216.5) rotate(8)" text-anchor="middle" y="4.83" font-size="13.5" textLength="29" lengthAdjust="spacingAndGlyphs" fill="#0a0a0a" stroke="#0a0a0a" stroke-width="0.65">ø 125</text>
<text transform="translate(676.4,173.5) rotate(-25)" text-anchor="middle" y="4.83" font-size="13.5" textLength="17" lengthAdjust="spacingAndGlyphs" fill="#0a0a0a" stroke="#0a0a0a" stroke-width="0.65">47°</text>
<text transform="translate(725.3,172.5) rotate(25)" text-anchor="middle" y="4.83" font-size="13.5" textLength="17" lengthAdjust="spacingAndGlyphs" fill="#0a0a0a" stroke="#0a0a0a" stroke-width="0.65">47°</text>
<text transform="translate(762,204.5) rotate(74)" text-anchor="middle" y="3.94" font-size="11" textLength="13.5" lengthAdjust="spacingAndGlyphs" fill="#0a0a0a" stroke="#0a0a0a" stroke-width="0.65">43°</text>
<text transform="translate(662.2,253) rotate(58)" text-anchor="middle" y="4.83" font-size="13.5" textLength="17" lengthAdjust="spacingAndGlyphs" fill="#0a0a0a" stroke="#0a0a0a" stroke-width="0.65">60°</text>
<text transform="translate(701.3,275.2) rotate(0)" text-anchor="middle" y="4.83" font-size="13.5" textLength="17" lengthAdjust="spacingAndGlyphs" fill="#0a0a0a" stroke="#0a0a0a" stroke-width="0.65">60°</text>
<text transform="translate(739.5,253.9) rotate(-60)" text-anchor="middle" y="4.83" font-size="13.5" textLength="17" lengthAdjust="spacingAndGlyphs" fill="#0a0a0a" stroke="#0a0a0a" stroke-width="0.65">60°</text>
<path d="M85.7,558.9 L85.7,502.8 Q85.7,498.7 90.1,498.7 L128.3,498.7" fill="none" stroke="#141414" stroke-width="1.3"/>
<line x1="106.07" y1="498.7" x2="106.07" y2="531.9" stroke="#141414" stroke-width="1.3"/>
<line x1="109.78" y1="498.7" x2="109.78" y2="531.9" stroke="#141414" stroke-width="1.0"/>
<line x1="106.07" y1="539.8" x2="106.07" y2="600.3" stroke="#141414" stroke-width="1.0"/>
<line x1="109.78" y1="539.8" x2="109.78" y2="600.3" stroke="#141414" stroke-width="1.0"/>
<circle cx="92.73" cy="505.6" r="1.9" fill="none" stroke="#141414" stroke-width="1.0"/>
<path d="M86.68,520.8 Q98.4,517.3 103.29,509.8" fill="none" stroke="#141414" stroke-width="1.0"/>
<path d="M86.68,524 Q98.4,520.5 103.29,513" fill="none" stroke="#141414" stroke-width="1.0"/>
<path d="M86.68,527.2 Q98.4,523.7 103.29,516.2" fill="none" stroke="#141414" stroke-width="1.0"/>
<line x1="85.7" y1="532.3" x2="128.3" y2="532.3" stroke="#141414" stroke-width="1.3"/>
<line x1="85.7" y1="539.8" x2="128.3" y2="539.8" stroke="#141414" stroke-width="1.3"/>
<circle cx="87.85" cy="536.1" r="1.3" fill="none" stroke="#141414" stroke-width="0.8"/>
<circle cx="124.98" cy="536.1" r="1.3" fill="none" stroke="#141414" stroke-width="0.8"/>
<line x1="86.29" y1="539.8" x2="86.29" y2="558.9" stroke="#141414" stroke-width="1.3"/>
<line x1="73.19" y1="558.9" x2="73.19" y2="603.3" stroke="#141414" stroke-width="1.7"/>
<line x1="73.19" y1="559.1" x2="86.29" y2="559.1" stroke="#141414" stroke-width="1.5"/>
<line x1="78.57" y1="559.1" x2="78.57" y2="571.3" stroke="#141414" stroke-width="1.3"/>
<line x1="79.84" y1="559.1" x2="79.84" y2="571.3" stroke="#141414" stroke-width="1.0"/>
<line x1="73.98" y1="569.4" x2="87.17" y2="569.4" stroke="#141414" stroke-width="1.3"/>
<line x1="73.19" y1="603.8" x2="77.88" y2="603.8" stroke="#141414" stroke-width="1.3"/>
<path d="M77.69,599.3 L77.69,575.3 Q78.37,571.1 81.79,570.7 L87.17,570.7 Q90.58,571.8 91.17,576.3 L91.17,597.3" fill="none" stroke="#141414" stroke-width="1.4"/>
<rect x="77.69" y="574.2" width="13.48" height="2.5" rx="0" fill="#111" stroke="#141414" stroke-width="0.5"/>
<rect x="77.69" y="590.1" width="13.48" height="2.8" rx="0" fill="#111" stroke="#141414" stroke-width="0.5"/>
<line x1="80.81" y1="570.8" x2="80.81" y2="574.3" stroke="#141414" stroke-width="1.0"/>
<line x1="81.99" y1="570.8" x2="81.99" y2="574.3" stroke="#141414" stroke-width="1.0"/>
<rect x="80.52" y="592.9" width="9.87" height="6.4" rx="0" fill="none" stroke="#141414" stroke-width="1.1"/>
<line x1="84.04" y1="592.9" x2="84.04" y2="599.3" stroke="#141414" stroke-width="0.9"/>
<line x1="87.46" y1="592.9" x2="87.46" y2="599.3" stroke="#141414" stroke-width="0.9"/>
<path d="M75.54,598.3 Q76.42,605.3 83.75,605.9 Q91.56,605.9 92.44,597.3" fill="none" stroke="#141414" stroke-width="1.8"/>
<rect x="79.15" y="600.6" width="9.48" height="4" rx="0" fill="#333" stroke="#141414" stroke-width="0.5"/>
<line x1="76.42" y1="599.6" x2="91.07" y2="599.6" stroke="#141414" stroke-width="1.5"/>
<line x1="91.46" y1="576.3" x2="91.46" y2="599.3" stroke="#141414" stroke-width="1.0"/>
<line x1="87.65" y1="600.7" x2="127.71" y2="600.7" stroke="#141414" stroke-width="1.3"/>
<line x1="86.29" y1="603.8" x2="86.29" y2="615.3" stroke="#141414" stroke-width="1.3"/>
<line x1="86.29" y1="610.3" x2="127.71" y2="610.3" stroke="#555" stroke-width="1.0"/>
<line x1="86.29" y1="612.8" x2="127.71" y2="612.8" stroke="#777" stroke-width="1.6"/>
<line x1="86.29" y1="615.5" x2="127.71" y2="615.5" stroke="#141414" stroke-width="1.3"/>
<line x1="127.71" y1="600.7" x2="127.71" y2="615.5" stroke="#141414" stroke-width="1.3"/>
<circle cx="124.19" cy="604.6" r="1.4" fill="none" stroke="#141414" stroke-width="0.8"/>
<line x1="96.45" y1="616.9" x2="104.26" y2="616.9" stroke="#141414" stroke-width="1.4" stroke-dasharray="3 1.5"/>
<line x1="73.98" y1="582.1" x2="135.53" y2="582.1" stroke="#141414" stroke-width="1.0" stroke-dasharray="9 4"/>
<line x1="128.3" y1="498.7" x2="128.3" y2="555.5" stroke="#141414" stroke-width="1.3"/>
<line x1="121" y1="527.2" x2="134.5" y2="527.2" stroke="#141414" stroke-width="1.0"/>
<line x1="128.3" y1="555.5" x2="132.6" y2="555.5" stroke="#141414" stroke-width="1.3"/>
<line x1="132.6" y1="555.5" x2="132.6" y2="605" stroke="#141414" stroke-width="1.3"/>
<line x1="128.3" y1="605" x2="132.6" y2="605" stroke="#141414" stroke-width="1.3"/>
<line x1="129.8" y1="556" x2="129.8" y2="601" stroke="#141414" stroke-width="1.0"/>
<rect x="132.6" y="573" width="2.3" height="19.6" rx="0" fill="none" stroke="#141414" stroke-width="1.3"/>
<line x1="129" y1="582.1" x2="140" y2="582.1" stroke="#141414" stroke-width="1.0" stroke-dasharray="5 3"/>
<path d="M356.45,558.9 L356.45,502.8 Q356.45,498.7 360.85,498.7 L399.05,498.7" fill="none" stroke="#141414" stroke-width="1.3"/>
<line x1="376.82" y1="498.7" x2="376.82" y2="531.9" stroke="#141414" stroke-width="1.3"/>
<line x1="380.53" y1="498.7" x2="380.53" y2="531.9" stroke="#141414" stroke-width="1.0"/>
<line x1="376.82" y1="539.8" x2="376.82" y2="600.3" stroke="#141414" stroke-width="1.0"/>
<line x1="380.53" y1="539.8" x2="380.53" y2="600.3" stroke="#141414" stroke-width="1.0"/>
<circle cx="363.48" cy="505.6" r="1.9" fill="none" stroke="#141414" stroke-width="1.0"/>
<path d="M357.43,520.8 Q369.15,517.3 374.04,509.8" fill="none" stroke="#141414" stroke-width="1.0"/>
<path d="M357.43,524 Q369.15,520.5 374.04,513" fill="none" stroke="#141414" stroke-width="1.0"/>
<path d="M357.43,527.2 Q369.15,523.7 374.04,516.2" fill="none" stroke="#141414" stroke-width="1.0"/>
<line x1="356.45" y1="532.3" x2="399.05" y2="532.3" stroke="#141414" stroke-width="1.3"/>
<line x1="356.45" y1="539.8" x2="399.05" y2="539.8" stroke="#141414" stroke-width="1.3"/>
<circle cx="358.6" cy="536.1" r="1.3" fill="none" stroke="#141414" stroke-width="0.8"/>
<circle cx="395.73" cy="536.1" r="1.3" fill="none" stroke="#141414" stroke-width="0.8"/>
<line x1="357.04" y1="539.8" x2="357.04" y2="558.9" stroke="#141414" stroke-width="1.3"/>
<line x1="343.94" y1="558.9" x2="343.94" y2="603.3" stroke="#141414" stroke-width="1.7"/>
<line x1="343.94" y1="559.1" x2="357.04" y2="559.1" stroke="#141414" stroke-width="1.5"/>
<line x1="349.32" y1="559.1" x2="349.32" y2="571.3" stroke="#141414" stroke-width="1.3"/>
<line x1="350.59" y1="559.1" x2="350.59" y2="571.3" stroke="#141414" stroke-width="1.0"/>
<line x1="344.73" y1="569.4" x2="357.92" y2="569.4" stroke="#141414" stroke-width="1.3"/>
<line x1="343.94" y1="603.8" x2="348.63" y2="603.8" stroke="#141414" stroke-width="1.3"/>
<path d="M348.44,599.3 L348.44,575.3 Q349.12,571.1 352.54,570.7 L357.92,570.7 Q361.33,571.8 361.92,576.3 L361.92,597.3" fill="none" stroke="#141414" stroke-width="1.4"/>
<rect x="348.44" y="574.2" width="13.48" height="2.5" rx="0" fill="#111" stroke="#141414" stroke-width="0.5"/>
<rect x="348.44" y="590.1" width="13.48" height="2.8" rx="0" fill="#111" stroke="#141414" stroke-width="0.5"/>
<line x1="351.56" y1="570.8" x2="351.56" y2="574.3" stroke="#141414" stroke-width="1.0"/>
<line x1="352.74" y1="570.8" x2="352.74" y2="574.3" stroke="#141414" stroke-width="1.0"/>
<rect x="351.27" y="592.9" width="9.87" height="6.4" rx="0" fill="none" stroke="#141414" stroke-width="1.1"/>
<line x1="354.79" y1="592.9" x2="354.79" y2="599.3" stroke="#141414" stroke-width="0.9"/>
<line x1="358.21" y1="592.9" x2="358.21" y2="599.3" stroke="#141414" stroke-width="0.9"/>
<path d="M346.29,598.3 Q347.17,605.3 354.5,605.9 Q362.31,605.9 363.19,597.3" fill="none" stroke="#141414" stroke-width="1.8"/>
<rect x="349.9" y="600.6" width="9.48" height="4" rx="0" fill="#333" stroke="#141414" stroke-width="0.5"/>
<line x1="347.17" y1="599.6" x2="361.82" y2="599.6" stroke="#141414" stroke-width="1.5"/>
<line x1="362.21" y1="576.3" x2="362.21" y2="599.3" stroke="#141414" stroke-width="1.0"/>
<line x1="358.4" y1="600.7" x2="398.46" y2="600.7" stroke="#141414" stroke-width="1.3"/>
<line x1="357.04" y1="603.8" x2="357.04" y2="615.3" stroke="#141414" stroke-width="1.3"/>
<line x1="357.04" y1="610.3" x2="398.46" y2="610.3" stroke="#555" stroke-width="1.0"/>
<line x1="357.04" y1="612.8" x2="398.46" y2="612.8" stroke="#777" stroke-width="1.6"/>
<line x1="357.04" y1="615.5" x2="398.46" y2="615.5" stroke="#141414" stroke-width="1.3"/>
<line x1="398.46" y1="600.7" x2="398.46" y2="615.5" stroke="#141414" stroke-width="1.3"/>
<circle cx="394.94" cy="604.6" r="1.4" fill="none" stroke="#141414" stroke-width="0.8"/>
<line x1="367.2" y1="616.9" x2="375.01" y2="616.9" stroke="#141414" stroke-width="1.4" stroke-dasharray="3 1.5"/>
<line x1="344.73" y1="582.1" x2="406.28" y2="582.1" stroke="#141414" stroke-width="1.0" stroke-dasharray="9 4"/>
<line x1="399.05" y1="498.7" x2="399.05" y2="555.5" stroke="#141414" stroke-width="1.3"/>
<line x1="391.75" y1="527.2" x2="405.25" y2="527.2" stroke="#141414" stroke-width="1.0"/>
<line x1="399.05" y1="555.5" x2="403.35" y2="555.5" stroke="#141414" stroke-width="1.3"/>
<line x1="403.35" y1="555.5" x2="403.35" y2="605" stroke="#141414" stroke-width="1.3"/>
<line x1="399.05" y1="605" x2="403.35" y2="605" stroke="#141414" stroke-width="1.3"/>
<line x1="400.55" y1="556" x2="400.55" y2="601" stroke="#141414" stroke-width="1.0"/>
<rect x="402.15" y="565" width="11.9" height="34.4" rx="0" fill="none" stroke="#141414" stroke-width="1.6"/>
<line x1="414.05" y1="564.4" x2="414.05" y2="600" stroke="#141414" stroke-width="2.0"/>
<line x1="399.75" y1="582.1" x2="416.75" y2="582.1" stroke="#141414" stroke-width="1.0" stroke-dasharray="9 4"/>
<path d="M582.4,558.9 L582.4,502.8 Q582.4,498.7 586.8,498.7 L625,498.7" fill="none" stroke="#141414" stroke-width="1.3"/>
<line x1="602.77" y1="498.7" x2="602.77" y2="531.9" stroke="#141414" stroke-width="1.3"/>
<line x1="606.48" y1="498.7" x2="606.48" y2="531.9" stroke="#141414" stroke-width="1.0"/>
<line x1="602.77" y1="539.8" x2="602.77" y2="600.3" stroke="#141414" stroke-width="1.0"/>
<line x1="606.48" y1="539.8" x2="606.48" y2="600.3" stroke="#141414" stroke-width="1.0"/>
<circle cx="589.43" cy="505.6" r="1.9" fill="none" stroke="#141414" stroke-width="1.0"/>
<path d="M583.38,520.8 Q595.1,517.3 599.99,509.8" fill="none" stroke="#141414" stroke-width="1.0"/>
<path d="M583.38,524 Q595.1,520.5 599.99,513" fill="none" stroke="#141414" stroke-width="1.0"/>
<path d="M583.38,527.2 Q595.1,523.7 599.99,516.2" fill="none" stroke="#141414" stroke-width="1.0"/>
<line x1="582.4" y1="532.3" x2="625" y2="532.3" stroke="#141414" stroke-width="1.3"/>
<line x1="582.4" y1="539.8" x2="625" y2="539.8" stroke="#141414" stroke-width="1.3"/>
<circle cx="584.55" cy="536.1" r="1.3" fill="none" stroke="#141414" stroke-width="0.8"/>
<circle cx="621.68" cy="536.1" r="1.3" fill="none" stroke="#141414" stroke-width="0.8"/>
<line x1="582.99" y1="539.8" x2="582.99" y2="558.9" stroke="#141414" stroke-width="1.3"/>
<line x1="569.89" y1="558.9" x2="569.89" y2="603.3" stroke="#141414" stroke-width="1.7"/>
<line x1="569.89" y1="559.1" x2="582.99" y2="559.1" stroke="#141414" stroke-width="1.5"/>
<line x1="575.27" y1="559.1" x2="575.27" y2="571.3" stroke="#141414" stroke-width="1.3"/>
<line x1="576.54" y1="559.1" x2="576.54" y2="571.3" stroke="#141414" stroke-width="1.0"/>
<line x1="570.68" y1="569.4" x2="583.87" y2="569.4" stroke="#141414" stroke-width="1.3"/>
<line x1="569.89" y1="603.8" x2="574.58" y2="603.8" stroke="#141414" stroke-width="1.3"/>
<path d="M574.39,599.3 L574.39,575.3 Q575.07,571.1 578.49,570.7 L583.87,570.7 Q587.28,571.8 587.87,576.3 L587.87,597.3" fill="none" stroke="#141414" stroke-width="1.4"/>
<rect x="574.39" y="574.2" width="13.48" height="2.5" rx="0" fill="#111" stroke="#141414" stroke-width="0.5"/>
<rect x="574.39" y="590.1" width="13.48" height="2.8" rx="0" fill="#111" stroke="#141414" stroke-width="0.5"/>
<line x1="577.51" y1="570.8" x2="577.51" y2="574.3" stroke="#141414" stroke-width="1.0"/>
<line x1="578.69" y1="570.8" x2="578.69" y2="574.3" stroke="#141414" stroke-width="1.0"/>
<rect x="577.22" y="592.9" width="9.87" height="6.4" rx="0" fill="none" stroke="#141414" stroke-width="1.1"/>
<line x1="580.74" y1="592.9" x2="580.74" y2="599.3" stroke="#141414" stroke-width="0.9"/>
<line x1="584.16" y1="592.9" x2="584.16" y2="599.3" stroke="#141414" stroke-width="0.9"/>
<path d="M572.24,598.3 Q573.12,605.3 580.45,605.9 Q588.26,605.9 589.14,597.3" fill="none" stroke="#141414" stroke-width="1.8"/>
<rect x="575.85" y="600.6" width="9.48" height="4" rx="0" fill="#333" stroke="#141414" stroke-width="0.5"/>
<line x1="573.12" y1="599.6" x2="587.77" y2="599.6" stroke="#141414" stroke-width="1.5"/>
<line x1="588.16" y1="576.3" x2="588.16" y2="599.3" stroke="#141414" stroke-width="1.0"/>
<line x1="584.35" y1="600.7" x2="624.41" y2="600.7" stroke="#141414" stroke-width="1.3"/>
<line x1="582.99" y1="603.8" x2="582.99" y2="615.3" stroke="#141414" stroke-width="1.3"/>
<line x1="582.99" y1="610.3" x2="624.41" y2="610.3" stroke="#555" stroke-width="1.0"/>
<line x1="582.99" y1="612.8" x2="624.41" y2="612.8" stroke="#777" stroke-width="1.6"/>
<line x1="582.99" y1="615.5" x2="624.41" y2="615.5" stroke="#141414" stroke-width="1.3"/>
<line x1="624.41" y1="600.7" x2="624.41" y2="615.5" stroke="#141414" stroke-width="1.3"/>
<circle cx="620.89" cy="604.6" r="1.4" fill="none" stroke="#141414" stroke-width="0.8"/>
<line x1="593.15" y1="616.9" x2="600.96" y2="616.9" stroke="#141414" stroke-width="1.4" stroke-dasharray="3 1.5"/>
<line x1="570.68" y1="582.1" x2="632.23" y2="582.1" stroke="#141414" stroke-width="1.0" stroke-dasharray="9 4"/>
<line x1="625" y1="498.7" x2="625" y2="555.5" stroke="#141414" stroke-width="1.3"/>
<line x1="617.7" y1="527.2" x2="631.2" y2="527.2" stroke="#141414" stroke-width="1.0"/>
<line x1="625" y1="555.5" x2="629.3" y2="555.5" stroke="#141414" stroke-width="1.3"/>
<line x1="629.3" y1="555.5" x2="629.3" y2="605" stroke="#141414" stroke-width="1.3"/>
<line x1="625" y1="605" x2="629.3" y2="605" stroke="#141414" stroke-width="1.3"/>
<line x1="626.5" y1="556" x2="626.5" y2="601" stroke="#141414" stroke-width="1.0"/>
<rect x="629.3" y="573" width="2.3" height="19.6" rx="0" fill="none" stroke="#141414" stroke-width="1.3"/>
<line x1="625.7" y1="582.1" x2="636.7" y2="582.1" stroke="#141414" stroke-width="1.0" stroke-dasharray="5 3"/>
<text x="92.15" y="471.95" font-size="11.73" textLength="17.5" lengthAdjust="spacingAndGlyphs" fill="#0a0a0a" stroke="#0a0a0a" stroke-width="0.7">173</text>
<line x1="72.9" y1="476.4" x2="129.3" y2="476.4" stroke="#141414" stroke-width="1.0"/>
<polygon points="72.9,476.4 80.9,474.85 80.9,477.95" fill="#0a0a0a"/>
<polygon points="129.3,476.4 121.3,477.95 121.3,474.85" fill="#0a0a0a"/>
<line x1="72.9" y1="470.3" x2="72.9" y2="596" stroke="#141414" stroke-width="1.0"/>
<line x1="129.3" y1="470.3" x2="129.3" y2="555" stroke="#141414" stroke-width="1.0"/>
<text x="51.55" y="635.45" font-size="11.87" textLength="15.5" lengthAdjust="spacingAndGlyphs" fill="#0a0a0a" stroke="#0a0a0a" stroke-width="0.7">8.5</text>
<text x="96.75" y="636.05" font-size="11.87" textLength="17.6" lengthAdjust="spacingAndGlyphs" fill="#0a0a0a" stroke="#0a0a0a" stroke-width="0.7">184</text>
<line x1="55" y1="640.5" x2="134.4" y2="640.5" stroke="#141414" stroke-width="1.0"/>
<polygon points="75.5,640.5 68.5,642.05 68.5,638.95" fill="#0a0a0a"/>
<polygon points="78.4,640.5 85.4,638.95 85.4,642.05" fill="#0a0a0a"/>
<polygon points="134.4,640.5 126.4,642.05 126.4,638.95" fill="#0a0a0a"/>
<line x1="75.5" y1="600" x2="75.5" y2="647" stroke="#141414" stroke-width="1.0"/>
<line x1="78.4" y1="600" x2="78.4" y2="647" stroke="#141414" stroke-width="1.3"/>
<line x1="134.4" y1="596" x2="134.4" y2="647" stroke="#141414" stroke-width="1.0"/>
<text x="362.9" y="471.95" font-size="11.73" textLength="17.5" lengthAdjust="spacingAndGlyphs" fill="#0a0a0a" stroke="#0a0a0a" stroke-width="0.7">173</text>
<line x1="343.65" y1="476.4" x2="400.05" y2="476.4" stroke="#141414" stroke-width="1.0"/>
<polygon points="343.65,476.4 351.65,474.85 351.65,477.95" fill="#0a0a0a"/>
<polygon points="400.05,476.4 392.05,477.95 392.05,474.85" fill="#0a0a0a"/>
<line x1="343.65" y1="470.3" x2="343.65" y2="596" stroke="#141414" stroke-width="1.0"/>
<line x1="400.05" y1="470.3" x2="400.05" y2="555" stroke="#141414" stroke-width="1.0"/>
<text x="322.3" y="635.45" font-size="11.87" textLength="15.5" lengthAdjust="spacingAndGlyphs" fill="#0a0a0a" stroke="#0a0a0a" stroke-width="0.7">8.5</text>
<text x="365.1" y="636.05" font-size="11.87" textLength="28.5" lengthAdjust="spacingAndGlyphs" fill="#0a0a0a" stroke="#0a0a0a" stroke-width="0.7">215.5</text>
<line x1="325.75" y1="640.5" x2="413.8" y2="640.5" stroke="#141414" stroke-width="1.0"/>
<polygon points="346.25,640.5 339.25,642.05 339.25,638.95" fill="#0a0a0a"/>
<polygon points="349.15,640.5 356.15,638.95 356.15,642.05" fill="#0a0a0a"/>
<polygon points="413.8,640.5 405.8,642.05 405.8,638.95" fill="#0a0a0a"/>
<line x1="346.25" y1="600" x2="346.25" y2="647" stroke="#141414" stroke-width="1.0"/>
<line x1="349.15" y1="600" x2="349.15" y2="647" stroke="#141414" stroke-width="1.3"/>
<line x1="413.8" y1="596" x2="413.8" y2="647" stroke="#141414" stroke-width="1.0"/>
<text x="588.65" y="471.95" font-size="11.73" textLength="17.5" lengthAdjust="spacingAndGlyphs" fill="#0a0a0a" stroke="#0a0a0a" stroke-width="0.7">173</text>
<line x1="569.4" y1="476.4" x2="625.8" y2="476.4" stroke="#141414" stroke-width="1.0"/>
<polygon points="569.4,476.4 577.4,474.85 577.4,477.95" fill="#0a0a0a"/>
<polygon points="625.8,476.4 617.8,477.95 617.8,474.85" fill="#0a0a0a"/>
<line x1="569.4" y1="470.3" x2="569.4" y2="596" stroke="#141414" stroke-width="1.0"/>
<line x1="625.8" y1="470.3" x2="625.8" y2="555" stroke="#141414" stroke-width="1.0"/>
<text x="548.05" y="635.45" font-size="11.87" textLength="15.5" lengthAdjust="spacingAndGlyphs" fill="#0a0a0a" stroke="#0a0a0a" stroke-width="0.7">8.5</text>
<text x="593.85" y="636.05" font-size="11.87" textLength="18.3" lengthAdjust="spacingAndGlyphs" fill="#0a0a0a" stroke="#0a0a0a" stroke-width="0.7">180</text>
<line x1="551.5" y1="640.5" x2="632.8" y2="640.5" stroke="#141414" stroke-width="1.0"/>
<polygon points="572,640.5 565,642.05 565,638.95" fill="#0a0a0a"/>
<polygon points="574.9,640.5 581.9,638.95 581.9,642.05" fill="#0a0a0a"/>
<polygon points="632.8,640.5 624.8,642.05 624.8,638.95" fill="#0a0a0a"/>
<line x1="572" y1="600" x2="572" y2="647" stroke="#141414" stroke-width="1.0"/>
<line x1="574.9" y1="600" x2="574.9" y2="647" stroke="#141414" stroke-width="1.3"/>
<line x1="632.8" y1="596" x2="632.8" y2="647" stroke="#141414" stroke-width="1.0"/>
<line x1="414" y1="565" x2="447" y2="565" stroke="#141414" stroke-width="1.0"/>
<line x1="414" y1="599.4" x2="447" y2="599.4" stroke="#141414" stroke-width="1.0"/>
<line x1="441.1" y1="565" x2="441.1" y2="599.4" stroke="#141414" stroke-width="1.0"/>
<polygon points="441.1,565 442.65,572 439.55,572" fill="#0a0a0a"/>
<polygon points="441.1,599.4 439.55,592.4 442.65,592.4" fill="#0a0a0a"/>
<text transform="translate(436.65,593.25) rotate(-90)" font-size="12.99" textLength="21.5" lengthAdjust="spacingAndGlyphs" fill="#0a0a0a" stroke="#0a0a0a" stroke-width="0.7">ø 53</text>
<text x="113.35" y="672.15" font-size="12.99" textLength="17.6" lengthAdjust="spacingAndGlyphs" fill="#0a0a0a" stroke="#0a0a0a" stroke-width="0.7">180</text>
<line x1="77.5" y1="675.75" x2="166.25" y2="675.75" stroke="#141414" stroke-width="1.0"/>
<polygon points="77.5,675.75 85.5,674.2 85.5,677.3" fill="#0a0a0a"/>
<polygon points="166.25,675.75 158.25,677.3 158.25,674.2" fill="#0a0a0a"/>
<line x1="77.5" y1="670" x2="77.5" y2="836" stroke="#141414" stroke-width="1.0"/>
<line x1="166.25" y1="670" x2="166.25" y2="720" stroke="#141414" stroke-width="1.0"/>
<polyline points="77.5,720.8 99.2,720.8 99.2,719 124.6,719 124.6,717.5 146,717.5 146,719 153.8,719 153.8,720.8 171.3,720.8" fill="none" stroke="#141414" stroke-width="1.3" stroke-linejoin="miter"/>
<polyline points="77.5,748 99.2,748 99.2,749.6 124.6,749.6 124.6,751 146,751 146,749.6 153.8,749.6 153.8,748 171.3,748" fill="none" stroke="#141414" stroke-width="1.3" stroke-linejoin="miter"/>
<line x1="77.5" y1="722.2" x2="166.5" y2="722.2" stroke="#0a0a0a" stroke-width="4.3"/>
<line x1="62" y1="748" x2="160" y2="748" stroke="#141414" stroke-width="1.2"/>
<line x1="77.5" y1="744.8" x2="160" y2="744.8" stroke="#141414" stroke-width="1.0"/>
<line x1="79" y1="744.8" x2="82.2" y2="748" stroke="#141414" stroke-width="2.0"/>
<line x1="84.8" y1="744.8" x2="88" y2="748" stroke="#141414" stroke-width="2.0"/>
<line x1="90.6" y1="744.8" x2="93.8" y2="748" stroke="#141414" stroke-width="2.0"/>
<line x1="96.4" y1="744.8" x2="99.6" y2="748" stroke="#141414" stroke-width="2.0"/>
<line x1="102.2" y1="744.8" x2="105.4" y2="748" stroke="#141414" stroke-width="2.0"/>
<line x1="108" y1="744.8" x2="111.2" y2="748" stroke="#141414" stroke-width="2.0"/>
<line x1="113.8" y1="744.8" x2="117" y2="748" stroke="#141414" stroke-width="2.0"/>
<line x1="119.6" y1="744.8" x2="122.8" y2="748" stroke="#141414" stroke-width="2.0"/>
<line x1="125.4" y1="744.8" x2="128.6" y2="748" stroke="#141414" stroke-width="2.0"/>
<line x1="131.2" y1="744.8" x2="134.4" y2="748" stroke="#141414" stroke-width="2.0"/>
<line x1="137" y1="744.8" x2="140.2" y2="748" stroke="#141414" stroke-width="2.0"/>
<line x1="142.8" y1="744.8" x2="146" y2="748" stroke="#141414" stroke-width="2.0"/>
<line x1="148.6" y1="744.8" x2="151.8" y2="748" stroke="#141414" stroke-width="2.0"/>
<line x1="154.4" y1="744.8" x2="157.6" y2="748" stroke="#141414" stroke-width="2.0"/>
<line x1="101" y1="717.8" x2="103.2" y2="720" stroke="#141414" stroke-width="1.4"/>
<line x1="106.8" y1="717.8" x2="109" y2="720" stroke="#141414" stroke-width="1.4"/>
<line x1="112.6" y1="717.8" x2="114.8" y2="720" stroke="#141414" stroke-width="1.4"/>
<line x1="118.4" y1="717.8" x2="120.6" y2="720" stroke="#141414" stroke-width="1.4"/>
<line x1="124.2" y1="717.8" x2="126.4" y2="720" stroke="#141414" stroke-width="1.4"/>
<line x1="130" y1="717.8" x2="132.2" y2="720" stroke="#141414" stroke-width="1.4"/>
<line x1="135.8" y1="717.8" x2="138" y2="720" stroke="#141414" stroke-width="1.4"/>
<line x1="141.6" y1="717.8" x2="143.8" y2="720" stroke="#141414" stroke-width="1.4"/>
<line x1="147.4" y1="717.8" x2="149.6" y2="720" stroke="#141414" stroke-width="1.4"/>
<line x1="101" y1="748.3" x2="103.3" y2="750.6" stroke="#141414" stroke-width="1.6"/>
<line x1="106.8" y1="748.3" x2="109.1" y2="750.6" stroke="#141414" stroke-width="1.6"/>
<line x1="112.6" y1="748.3" x2="114.9" y2="750.6" stroke="#141414" stroke-width="1.6"/>
<line x1="118.4" y1="748.3" x2="120.7" y2="750.6" stroke="#141414" stroke-width="1.6"/>
<line x1="124.2" y1="748.3" x2="126.5" y2="750.6" stroke="#141414" stroke-width="1.6"/>
<line x1="130" y1="748.3" x2="132.3" y2="750.6" stroke="#141414" stroke-width="1.6"/>
<line x1="135.8" y1="748.3" x2="138.1" y2="750.6" stroke="#141414" stroke-width="1.6"/>
<line x1="141.6" y1="748.3" x2="143.9" y2="750.6" stroke="#141414" stroke-width="1.6"/>
<line x1="147.4" y1="748.3" x2="149.7" y2="750.6" stroke="#141414" stroke-width="1.6"/>
<line x1="77.5" y1="720" x2="77.5" y2="748.4" stroke="#141414" stroke-width="1.8"/>
<line x1="86.25" y1="723.5" x2="86.25" y2="744.5" stroke="#141414" stroke-width="1.8"/>
<line x1="70" y1="734.5" x2="180" y2="734.5" stroke="#141414" stroke-width="1.0" stroke-dasharray="9 4"/>
<polygon points="158.8,720.3 167,720.3 171.3,723.5 171.3,745.5 167,748.6 158.8,748.6" fill="none" stroke="#141414" stroke-width="1.5" stroke-linejoin="miter"/>
<line x1="162.5" y1="721" x2="162.5" y2="748" stroke="#141414" stroke-width="1.3"/>
<line x1="166.3" y1="721" x2="166.3" y2="748" stroke="#141414" stroke-width="1.0"/>
<line x1="159.5" y1="728.5" x2="166" y2="723" stroke="#141414" stroke-width="1.3"/>
<line x1="159.5" y1="734.5" x2="166" y2="729" stroke="#141414" stroke-width="1.3"/>
<line x1="159.5" y1="741.5" x2="166" y2="736" stroke="#141414" stroke-width="1.3"/>
<line x1="159.5" y1="747.5" x2="166" y2="742" stroke="#141414" stroke-width="1.3"/>
<line x1="166.5" y1="729" x2="171" y2="723.8" stroke="#141414" stroke-width="1.2"/>
<line x1="166.5" y1="747.5" x2="171" y2="742" stroke="#141414" stroke-width="1.2"/>
<rect x="148.75" y="730.8" width="11.25" height="7.4" rx="0" fill="#fff" stroke="#141414" stroke-width="1.0"/>
<line x1="152" y1="732.6" x2="165" y2="732.6" stroke="#141414" stroke-width="1.2"/>
<line x1="152" y1="736.4" x2="165" y2="736.4" stroke="#141414" stroke-width="1.2"/>
<line x1="33.9" y1="719.8" x2="33.9" y2="748" stroke="#141414" stroke-width="1.0"/>
<polygon points="33.9,719.8 35.45,725.8 32.35,725.8" fill="#0a0a0a"/>
<polygon points="33.9,748 32.35,742 35.45,742" fill="#0a0a0a"/>
<line x1="29.5" y1="719.8" x2="77.5" y2="719.8" stroke="#141414" stroke-width="1.0"/>
<line x1="29.5" y1="748" x2="43.5" y2="748" stroke="#141414" stroke-width="1.0"/>
<text transform="translate(29.95,744.45) rotate(-90)" font-size="10.89" textLength="21.4" lengthAdjust="spacingAndGlyphs" fill="#0a0a0a" stroke="#0a0a0a" stroke-width="0.7">ø 55</text>
<line x1="56.6" y1="733.8" x2="56.6" y2="786.7" stroke="#141414" stroke-width="1.0"/>
<polygon points="56.6,745.6 58.15,752.6 55.05,752.6" fill="#0a0a0a"/>
<line x1="50.2" y1="745.2" x2="77.5" y2="745.2" stroke="#141414" stroke-width="1.0"/>
<text transform="translate(53.85,786.35) rotate(-90)" font-size="10.34" textLength="20.2" lengthAdjust="spacingAndGlyphs" fill="#0a0a0a" stroke="#0a0a0a" stroke-width="0.7">ø 40</text>
<text transform="translate(46.05,761.15) rotate(-90)" font-size="6.84" textLength="8.4" lengthAdjust="spacingAndGlyphs" fill="#0a0a0a" font-weight="bold" stroke="#0a0a0a" stroke-width="0.7">H7</text>
<text x="125.35" y="798.4" font-size="12.99" textLength="11.8" lengthAdjust="spacingAndGlyphs" fill="#0a0a0a" stroke="#0a0a0a" stroke-width="0.7">29</text>
<line x1="128.75" y1="803.75" x2="177.5" y2="803.75" stroke="#141414" stroke-width="1.0"/>
<polygon points="148.75,803.75 141.75,805.3 141.75,802.2" fill="#0a0a0a"/>
<polygon points="158,803.75 165,802.2 165,805.3" fill="#0a0a0a"/>
<line x1="148.75" y1="731" x2="148.75" y2="808" stroke="#141414" stroke-width="1.0"/>
<line x1="158" y1="748" x2="158" y2="834" stroke="#141414" stroke-width="1.0"/>
<text x="109.1" y="825.65" font-size="12.99" textLength="16.8" lengthAdjust="spacingAndGlyphs" fill="#0a0a0a" stroke="#0a0a0a" stroke-width="0.7">156</text>
<line x1="77.5" y1="828.75" x2="158" y2="828.75" stroke="#141414" stroke-width="1.0"/>
<polygon points="77.5,828.75 85.5,827.2 85.5,830.3" fill="#0a0a0a"/>
<polygon points="158,828.75 150,830.3 150,827.2" fill="#0a0a0a"/>
<polygon points="179.6,758.9 245.3,758.9 235,790 169.5,790" fill="none" stroke="#141414" stroke-width="1.3" stroke-linejoin="miter"/>
<text x="182.05" y="772.65" font-size="12.29" textLength="41.9" lengthAdjust="spacingAndGlyphs" fill="#0a0a0a" stroke="#0a0a0a" stroke-width="0.7">ISO 4017</text>
<text x="175.65" y="787.95" font-size="12.43" textLength="54.4" lengthAdjust="spacingAndGlyphs" fill="#0a0a0a" stroke="#0a0a0a" stroke-width="0.7">M16x40-8.8</text>
<polyline points="162.6,749.5 167.7,776 174,776" fill="none" stroke="#141414" stroke-width="1.0" stroke-linejoin="miter"/>
<circle cx="222.5" cy="734" r="14.2" fill="none" stroke="#141414" stroke-width="1.6"/>
<circle cx="222.5" cy="734" r="10.9" fill="none" stroke="#141414" stroke-width="1.3"/>
<line x1="233.5" y1="734" x2="236.16" y2="737.06" stroke="#141414" stroke-width="0.8"/>
<line x1="232.84" y1="737.76" x2="234.29" y2="741.54" stroke="#141414" stroke-width="0.8"/>
<line x1="230.93" y1="741.07" x2="231" y2="745.12" stroke="#141414" stroke-width="0.8"/>
<line x1="228" y1="743.53" x2="226.69" y2="747.36" stroke="#141414" stroke-width="0.8"/>
<line x1="224.41" y1="744.83" x2="221.86" y2="747.99" stroke="#141414" stroke-width="0.8"/>
<line x1="220.59" y1="744.83" x2="217.12" y2="746.92" stroke="#141414" stroke-width="0.8"/>
<line x1="217" y1="743.53" x2="213.02" y2="744.3" stroke="#141414" stroke-width="0.8"/>
<line x1="214.07" y1="741.07" x2="210.07" y2="740.44" stroke="#141414" stroke-width="0.8"/>
<line x1="212.16" y1="737.76" x2="208.62" y2="735.8" stroke="#141414" stroke-width="0.8"/>
<line x1="211.5" y1="734" x2="208.84" y2="730.94" stroke="#141414" stroke-width="0.8"/>
<line x1="212.16" y1="730.24" x2="210.71" y2="726.46" stroke="#141414" stroke-width="0.8"/>
<line x1="214.07" y1="726.93" x2="214" y2="722.88" stroke="#141414" stroke-width="0.8"/>
<line x1="217" y1="724.47" x2="218.31" y2="720.64" stroke="#141414" stroke-width="0.8"/>
<line x1="220.59" y1="723.17" x2="223.14" y2="720.01" stroke="#141414" stroke-width="0.8"/>
<line x1="224.41" y1="723.17" x2="227.88" y2="721.08" stroke="#141414" stroke-width="0.8"/>
<line x1="228" y1="724.47" x2="231.98" y2="723.7" stroke="#141414" stroke-width="0.8"/>
<line x1="230.93" y1="726.93" x2="234.93" y2="727.56" stroke="#141414" stroke-width="0.8"/>
<line x1="232.84" y1="730.24" x2="236.38" y2="732.2" stroke="#141414" stroke-width="0.8"/>
<rect x="219.5" y="719.3" width="5.9" height="3.9" rx="0" fill="#fff" stroke="#141414" stroke-width="0.8"/>
<line x1="222.5" y1="724" x2="222.5" y2="745" stroke="#141414" stroke-width="1.0"/>
<line x1="212" y1="734" x2="233" y2="734" stroke="#141414" stroke-width="1.0"/>
<line x1="222.5" y1="745" x2="222.5" y2="753" stroke="#141414" stroke-width="1.0"/>
<line x1="233" y1="734" x2="240" y2="734" stroke="#141414" stroke-width="1.0"/>
<line x1="203" y1="734" x2="208" y2="734" stroke="#141414" stroke-width="1.0"/>
<text x="198.75" y="669.95" font-size="11.45" textLength="11.4" lengthAdjust="spacingAndGlyphs" fill="#0a0a0a" stroke="#0a0a0a" stroke-width="0.7">12</text>
<line x1="199" y1="676.3" x2="244.7" y2="676.3" stroke="#141414" stroke-width="1.0"/>
<polygon points="219.3,676.3 212.3,677.85 212.3,674.75" fill="#0a0a0a"/>
<polygon points="225.4,676.3 232.4,674.75 232.4,677.85" fill="#0a0a0a"/>
<line x1="219.3" y1="670.3" x2="219.3" y2="719.2" stroke="#666" stroke-width="0.7" stroke-dasharray="2 1"/>
<line x1="225.4" y1="670.3" x2="225.4" y2="719.2" stroke="#141414" stroke-width="1.0"/>
<line x1="248.5" y1="693" x2="248.5" y2="764.2" stroke="#141414" stroke-width="1.0"/>
<polygon points="248.5,722.1 246.95,715.1 250.05,715.1" fill="#0a0a0a"/>
<polygon points="248.5,744.9 250.05,751.9 246.95,751.9" fill="#0a0a0a"/>
<line x1="225.7" y1="722.1" x2="253.6" y2="722.1" stroke="#141414" stroke-width="1.0"/>
<line x1="231" y1="744.9" x2="253.6" y2="744.9" stroke="#141414" stroke-width="1.0"/>
<text transform="translate(242.45,713.65) rotate(-90)" font-size="12.29" textLength="20.2" lengthAdjust="spacingAndGlyphs" fill="#0a0a0a" stroke="#0a0a0a" stroke-width="0.7">43.3</text>
<text x="391.55" y="671.55" font-size="12.43" textLength="18" lengthAdjust="spacingAndGlyphs" fill="#0a0a0a" stroke="#0a0a0a" stroke-width="0.7">208</text>
<line x1="347.1" y1="675.7" x2="453" y2="675.7" stroke="#141414" stroke-width="1.0"/>
<polygon points="347.1,675.7 355.1,674.15 355.1,677.25" fill="#0a0a0a"/>
<polygon points="453,675.7 445,677.25 445,674.15" fill="#0a0a0a"/>
<line x1="347.1" y1="669" x2="347.1" y2="877.6" stroke="#141414" stroke-width="1.0"/>
<line x1="453.3" y1="669" x2="453.3" y2="874.6" stroke="#141414" stroke-width="1.0"/>
<text x="370.25" y="693.45" font-size="12.15" textLength="10.9" lengthAdjust="spacingAndGlyphs" fill="#0a0a0a" stroke="#0a0a0a" stroke-width="0.7">20</text>
<line x1="326" y1="698.2" x2="372.8" y2="698.2" stroke="#141414" stroke-width="1.0"/>
<polygon points="347.1,698.2 339.1,699.75 339.1,696.65" fill="#0a0a0a"/>
<polygon points="361.1,698.2 369.1,696.65 369.1,699.75" fill="#0a0a0a"/>
<line x1="361.1" y1="693.8" x2="361.1" y2="747.8" stroke="#444" stroke-width="0.8" stroke-dasharray="1.5 1"/>
<text x="419.85" y="693.45" font-size="12.15" textLength="11" lengthAdjust="spacingAndGlyphs" fill="#0a0a0a" stroke="#0a0a0a" stroke-width="0.7">38</text>
<line x1="421" y1="698.2" x2="473.5" y2="698.2" stroke="#141414" stroke-width="1.0"/>
<polygon points="438.5,698.2 430.5,699.75 430.5,696.65" fill="#0a0a0a"/>
<polygon points="453,698.2 461,696.65 461,699.75" fill="#0a0a0a"/>
<line x1="438.5" y1="693.8" x2="438.5" y2="748" stroke="#141414" stroke-width="1.0"/>
<polyline points="347.1,720 368.4,720 368.4,719.2 396.1,719.2 396.1,717.2 419.5,717.2 419.5,719.2 438.5,719.2 438.5,720 453,720" fill="none" stroke="#141414" stroke-width="1.3" stroke-linejoin="miter"/>
<polyline points="347.1,747.8 368.4,747.8 368.4,748.6 396.1,748.6 396.1,750.6 419.5,750.6 419.5,748.6 438.5,748.6 438.5,747.8 453,747.8" fill="none" stroke="#141414" stroke-width="1.3" stroke-linejoin="miter"/>
<line x1="348.5" y1="720" x2="353.1" y2="724.6" stroke="#141414" stroke-width="2.0"/>
<line x1="354.9" y1="720" x2="359.5" y2="724.6" stroke="#141414" stroke-width="2.0"/>
<line x1="361.3" y1="720" x2="365.9" y2="724.6" stroke="#141414" stroke-width="2.0"/>
<line x1="367.7" y1="720" x2="372.3" y2="724.6" stroke="#141414" stroke-width="2.0"/>
<line x1="374.1" y1="720" x2="378.7" y2="724.6" stroke="#141414" stroke-width="2.0"/>
<line x1="380.5" y1="720" x2="385.1" y2="724.6" stroke="#141414" stroke-width="2.0"/>
<line x1="386.9" y1="720" x2="391.5" y2="724.6" stroke="#141414" stroke-width="2.0"/>
<line x1="393.3" y1="720" x2="397.9" y2="724.6" stroke="#141414" stroke-width="2.0"/>
<line x1="399.7" y1="720" x2="404.3" y2="724.6" stroke="#141414" stroke-width="2.0"/>
<line x1="406.1" y1="720" x2="410.7" y2="724.6" stroke="#141414" stroke-width="2.0"/>
<line x1="412.5" y1="720" x2="417.1" y2="724.6" stroke="#141414" stroke-width="2.0"/>
<line x1="418.9" y1="720" x2="423.5" y2="724.6" stroke="#141414" stroke-width="2.0"/>
<line x1="425.3" y1="720" x2="429.9" y2="724.6" stroke="#141414" stroke-width="2.0"/>
<line x1="431.7" y1="720" x2="436.3" y2="724.6" stroke="#141414" stroke-width="2.0"/>
<line x1="438.1" y1="720" x2="442.7" y2="724.6" stroke="#141414" stroke-width="2.0"/>
<line x1="444.5" y1="720" x2="449.1" y2="724.6" stroke="#141414" stroke-width="2.0"/>
<line x1="450.9" y1="720" x2="452.5" y2="721.6" stroke="#141414" stroke-width="2.0"/>
<line x1="348.5" y1="744.2" x2="352.1" y2="747.8" stroke="#141414" stroke-width="2.0"/>
<line x1="354.9" y1="744.2" x2="358.5" y2="747.8" stroke="#141414" stroke-width="2.0"/>
<line x1="361.3" y1="744.2" x2="364.9" y2="747.8" stroke="#141414" stroke-width="2.0"/>
<line x1="367.7" y1="744.2" x2="371.3" y2="747.8" stroke="#141414" stroke-width="2.0"/>
<line x1="374.1" y1="744.2" x2="377.7" y2="747.8" stroke="#141414" stroke-width="2.0"/>
<line x1="380.5" y1="744.2" x2="384.1" y2="747.8" stroke="#141414" stroke-width="2.0"/>
<line x1="386.9" y1="744.2" x2="390.5" y2="747.8" stroke="#141414" stroke-width="2.0"/>
<line x1="393.3" y1="744.2" x2="396.9" y2="747.8" stroke="#141414" stroke-width="2.0"/>
<line x1="399.7" y1="744.2" x2="403.3" y2="747.8" stroke="#141414" stroke-width="2.0"/>
<line x1="406.1" y1="744.2" x2="409.7" y2="747.8" stroke="#141414" stroke-width="2.0"/>
<line x1="412.5" y1="744.2" x2="416.1" y2="747.8" stroke="#141414" stroke-width="2.0"/>
<line x1="418.9" y1="744.2" x2="422.5" y2="747.8" stroke="#141414" stroke-width="2.0"/>
<line x1="425.3" y1="744.2" x2="428.9" y2="747.8" stroke="#141414" stroke-width="2.0"/>
<line x1="431.7" y1="744.2" x2="435.3" y2="747.8" stroke="#141414" stroke-width="2.0"/>
<line x1="438.1" y1="744.2" x2="441.7" y2="747.8" stroke="#141414" stroke-width="2.0"/>
<line x1="444.5" y1="744.2" x2="448.1" y2="747.8" stroke="#141414" stroke-width="2.0"/>
<line x1="450.9" y1="744.2" x2="452.5" y2="745.8" stroke="#141414" stroke-width="2.0"/>
<line x1="397.5" y1="717.4" x2="400.1" y2="720" stroke="#141414" stroke-width="1.6"/>
<line x1="403.9" y1="717.4" x2="406.5" y2="720" stroke="#141414" stroke-width="1.6"/>
<line x1="410.3" y1="717.4" x2="412.9" y2="720" stroke="#141414" stroke-width="1.6"/>
<line x1="416.7" y1="717.4" x2="419.3" y2="720" stroke="#141414" stroke-width="1.6"/>
<line x1="397.5" y1="748" x2="399.9" y2="750.4" stroke="#141414" stroke-width="1.6"/>
<line x1="403.9" y1="748" x2="406.3" y2="750.4" stroke="#141414" stroke-width="1.6"/>
<line x1="410.3" y1="748" x2="412.7" y2="750.4" stroke="#141414" stroke-width="1.6"/>
<line x1="416.7" y1="748" x2="419.1" y2="750.4" stroke="#141414" stroke-width="1.6"/>
<line x1="315.9" y1="725" x2="491" y2="725" stroke="#141414" stroke-width="1.0"/>
<line x1="315.9" y1="744" x2="491" y2="744" stroke="#141414" stroke-width="1.0"/>
<line x1="347.1" y1="720" x2="347.1" y2="747.8" stroke="#141414" stroke-width="1.8"/>
<line x1="453" y1="720" x2="453" y2="747.8" stroke="#141414" stroke-width="1.3"/>
<line x1="342.1" y1="734.6" x2="461.8" y2="734.6" stroke="#141414" stroke-width="1.0" stroke-dasharray="9 4"/>
<rect x="440.8" y="709.3" width="12.2" height="10.7" rx="0" fill="#3c3c3c" stroke="#141414" stroke-width="1.5"/>
<line x1="446.9" y1="710.3" x2="446.9" y2="719" stroke="#ddd" stroke-width="0.9"/>
<line x1="441.8" y1="714.65" x2="452" y2="714.65" stroke="#ddd" stroke-width="0.9"/>
<line x1="442" y1="710.5" x2="445.8" y2="718.8" stroke="#bbb" stroke-width="0.7"/>
<line x1="448" y1="710.5" x2="451.8" y2="718.8" stroke="#bbb" stroke-width="0.7"/>
<rect x="440.8" y="749.2" width="12.2" height="9.4" rx="0" fill="#3c3c3c" stroke="#141414" stroke-width="1.5"/>
<line x1="446.9" y1="750.2" x2="446.9" y2="757.6" stroke="#ddd" stroke-width="0.9"/>
<line x1="441.8" y1="753.9" x2="452" y2="753.9" stroke="#ddd" stroke-width="0.9"/>
<line x1="442" y1="750.4" x2="445.8" y2="757.4" stroke="#bbb" stroke-width="0.7"/>
<line x1="448" y1="750.4" x2="451.8" y2="757.4" stroke="#bbb" stroke-width="0.7"/>
<line x1="296.5" y1="719.8" x2="296.5" y2="748" stroke="#141414" stroke-width="1.0"/>
<polygon points="296.5,719.8 298.05,725.8 294.95,725.8" fill="#0a0a0a"/>
<polygon points="296.5,748 294.95,742 298.05,742" fill="#0a0a0a"/>
<line x1="290.7" y1="719.8" x2="312.8" y2="719.8" stroke="#141414" stroke-width="1.0"/>
<line x1="290.7" y1="748" x2="312.8" y2="748" stroke="#141414" stroke-width="1.0"/>
<line x1="326.2" y1="719.8" x2="347.2" y2="719.8" stroke="#141414" stroke-width="1.0"/>
<line x1="326.2" y1="748" x2="347.2" y2="748" stroke="#141414" stroke-width="1.0"/>
<text transform="translate(290.95,744.45) rotate(-90)" font-size="10.89" textLength="21.4" lengthAdjust="spacingAndGlyphs" fill="#0a0a0a" stroke="#0a0a0a" stroke-width="0.7">ø 55</text>
<line x1="321.6" y1="705.2" x2="321.6" y2="787.3" stroke="#141414" stroke-width="1.0"/>
<polygon points="321.6,724.7 320.05,716.7 323.15,716.7" fill="#0a0a0a"/>
<polygon points="321.6,744 323.15,752 320.05,752" fill="#0a0a0a"/>
<text transform="translate(318.45,786.95) rotate(-90)" font-size="10.2" textLength="20.8" lengthAdjust="spacingAndGlyphs" fill="#0a0a0a" stroke="#0a0a0a" stroke-width="0.7">ø 40</text>
<text transform="translate(311.05,761.15) rotate(-90)" font-size="6.84" textLength="9" lengthAdjust="spacingAndGlyphs" fill="#0a0a0a" font-weight="bold" stroke="#0a0a0a" stroke-width="0.7">H7</text>
<line x1="483.7" y1="707" x2="483.7" y2="781.3" stroke="#141414" stroke-width="1.0"/>
<polygon points="483.7,725 482.15,718 485.25,718" fill="#0a0a0a"/>
<polygon points="483.7,744 485.25,751 482.15,751" fill="#0a0a0a"/>
<text transform="translate(480.45,780.95) rotate(-90)" font-size="12.71" textLength="21.1" lengthAdjust="spacingAndGlyphs" fill="#0a0a0a" stroke="#0a0a0a" stroke-width="0.7">ø 40</text>
<text transform="translate(472.65,756.15) rotate(-90)" font-size="6.56" textLength="8" lengthAdjust="spacingAndGlyphs" fill="#0a0a0a" font-weight="bold" stroke="#0a0a0a" stroke-width="0.7">H7</text>
<text x="370.25" y="822.35" font-size="12.01" textLength="11.8" lengthAdjust="spacingAndGlyphs" fill="#0a0a0a" stroke="#0a0a0a" stroke-width="0.7">25</text>
<line x1="327.5" y1="828" x2="381.5" y2="828" stroke="#141414" stroke-width="1.0"/>
<polygon points="347.1,828 339.1,829.55 339.1,826.45" fill="#0a0a0a"/>
<polygon points="361.7,828 369.7,826.45 369.7,829.55" fill="#0a0a0a"/>
<text x="418.35" y="822.35" font-size="12.01" textLength="12.5" lengthAdjust="spacingAndGlyphs" fill="#0a0a0a" stroke="#0a0a0a" stroke-width="0.7">43</text>
<line x1="417.1" y1="828" x2="473.5" y2="828" stroke="#141414" stroke-width="1.0"/>
<polygon points="436.4,828 428.4,829.55 428.4,826.45" fill="#0a0a0a"/>
<polygon points="453.6,828 461.6,826.45 461.6,829.55" fill="#0a0a0a"/>
<line x1="361.7" y1="824.4" x2="361.7" y2="874.6" stroke="#141414" stroke-width="1.3"/>
<line x1="436.4" y1="824.4" x2="436.4" y2="874.6" stroke="#141414" stroke-width="1.0"/>
<line x1="289.6" y1="856.5" x2="489.5" y2="856.5" stroke="#141414" stroke-width="1.0"/>
<line x1="289.6" y1="874.6" x2="489.5" y2="874.6" stroke="#141414" stroke-width="1.0"/>
<line x1="453.6" y1="856.5" x2="453.6" y2="874.6" stroke="#141414" stroke-width="1.3"/>
<line x1="311.5" y1="865.3" x2="463" y2="865.3" stroke="#141414" stroke-width="1.0" stroke-dasharray="9 4"/>
<path d="M347.1,852.8 L326.2,852.8 Q323.6,853.4 323.3,857 Q323,861.2 326.6,863.4" fill="none" stroke="#141414" stroke-width="1.3"/>
<line x1="328.5" y1="877.6" x2="347.1" y2="877.6" stroke="#141414" stroke-width="1.3"/>
<line x1="347.1" y1="852.8" x2="347.1" y2="877.6" stroke="#141414" stroke-width="1.3"/>
<path d="M321,868 Q322,864.6 326,864 Q328.5,866 328.5,869 L328.5,877.6 L325,877.3 Q321.4,874 321,868 Z" fill="none" stroke="#141414" stroke-width="1.4"/>
<line x1="322" y1="866.2" x2="328.3" y2="873" stroke="#141414" stroke-width="1.5"/>
<line x1="321.4" y1="870.3" x2="327.2" y2="876.6" stroke="#141414" stroke-width="1.5"/>
<line x1="296" y1="838.2" x2="296" y2="918.4" stroke="#141414" stroke-width="1.0"/>
<polygon points="296,856.5 294.45,849.5 297.55,849.5" fill="#0a0a0a"/>
<polygon points="296,874.6 297.55,881.6 294.45,881.6" fill="#0a0a0a"/>
<text transform="translate(292.15,918.05) rotate(-90)" font-size="13.27" textLength="21.2" lengthAdjust="spacingAndGlyphs" fill="#0a0a0a" stroke="#0a0a0a" stroke-width="0.7">ø 40</text>
<text transform="translate(292.95,891.15) rotate(-90)" font-size="4.61" textLength="7.8" lengthAdjust="spacingAndGlyphs" fill="#0a0a0a" font-weight="bold" stroke="#0a0a0a" stroke-width="0.7">h6</text>
<line x1="483.1" y1="838.2" x2="483.1" y2="912.6" stroke="#141414" stroke-width="1.0"/>
<polygon points="483.1,856.5 481.55,849.5 484.65,849.5" fill="#0a0a0a"/>
<polygon points="483.1,874.6 484.65,881.6 481.55,881.6" fill="#0a0a0a"/>
<text transform="translate(478.35,915.15) rotate(-90)" font-size="13.27" textLength="21.2" lengthAdjust="spacingAndGlyphs" fill="#0a0a0a" stroke="#0a0a0a" stroke-width="0.7">ø 40</text>
<text transform="translate(479.45,890.65) rotate(-90)" font-size="4.61" textLength="7.8" lengthAdjust="spacingAndGlyphs" fill="#0a0a0a" font-weight="bold" stroke="#0a0a0a" stroke-width="0.7">h6</text>
<text x="611.55" y="672.75" font-size="12.29" textLength="18.6" lengthAdjust="spacingAndGlyphs" fill="#0a0a0a" stroke="#0a0a0a" stroke-width="0.7">180</text>
<line x1="574.4" y1="675.5" x2="667" y2="675.5" stroke="#141414" stroke-width="1.0"/>
<polygon points="574.4,675.5 582.4,673.95 582.4,677.05" fill="#0a0a0a"/>
<polygon points="667,675.5 659,677.05 659,673.95" fill="#0a0a0a"/>
<line x1="574.4" y1="670" x2="574.4" y2="851" stroke="#141414" stroke-width="1.0"/>
<line x1="667" y1="670" x2="667" y2="779" stroke="#141414" stroke-width="1.0"/>
<text x="638.75" y="695.65" font-size="12.01" textLength="11.9" lengthAdjust="spacingAndGlyphs" fill="#0a0a0a" stroke="#0a0a0a" stroke-width="0.7">42</text>
<line x1="613.5" y1="698.6" x2="676.5" y2="698.6" stroke="#141414" stroke-width="1.0"/>
<polygon points="632.2,698.6 624.2,700.15 624.2,697.05" fill="#0a0a0a"/>
<polygon points="657.8,698.6 665.8,697.05 665.8,700.15" fill="#0a0a0a"/>
<line x1="632.2" y1="692.5" x2="632.2" y2="723" stroke="#141414" stroke-width="1.0"/>
<line x1="657.8" y1="692.5" x2="657.8" y2="779" stroke="#141414" stroke-width="1.0" stroke-dasharray="6 2"/>
<polyline points="574.2,720.4 595.5,720.4 595.5,718.7 621.3,718.7 621.3,717.4 647,717.4 647,720.4 667.5,720.4" fill="none" stroke="#141414" stroke-width="1.3" stroke-linejoin="miter"/>
<polyline points="574.2,748.3 595.5,748.3 595.5,749.4 621.3,749.4 621.3,750.8 647,750.8 647,748.3 667.5,748.3" fill="none" stroke="#141414" stroke-width="1.3" stroke-linejoin="miter"/>
<line x1="539.8" y1="723.3" x2="574.2" y2="723.3" stroke="#141414" stroke-width="1.0"/>
<line x1="539.8" y1="746.6" x2="574.2" y2="746.6" stroke="#141414" stroke-width="1.0"/>
<line x1="574.2" y1="724.5" x2="656" y2="724.5" stroke="#141414" stroke-width="1.3"/>
<line x1="574.2" y1="744.8" x2="656" y2="744.8" stroke="#141414" stroke-width="1.3"/>
<line x1="584.5" y1="720.6" x2="588.4" y2="724.5" stroke="#141414" stroke-width="2.0"/>
<line x1="590.7" y1="720.6" x2="594.6" y2="724.5" stroke="#141414" stroke-width="2.0"/>
<line x1="596.9" y1="720.6" x2="600.8" y2="724.5" stroke="#141414" stroke-width="2.0"/>
<line x1="603.1" y1="720.6" x2="607" y2="724.5" stroke="#141414" stroke-width="2.0"/>
<line x1="609.3" y1="720.6" x2="613.2" y2="724.5" stroke="#141414" stroke-width="2.0"/>
<line x1="615.5" y1="720.6" x2="619.4" y2="724.5" stroke="#141414" stroke-width="2.0"/>
<line x1="621.7" y1="720.6" x2="625.6" y2="724.5" stroke="#141414" stroke-width="2.0"/>
<line x1="627.9" y1="720.6" x2="631.8" y2="724.5" stroke="#141414" stroke-width="2.0"/>
<line x1="634.1" y1="720.6" x2="638" y2="724.5" stroke="#141414" stroke-width="2.0"/>
<line x1="640.3" y1="720.6" x2="644.2" y2="724.5" stroke="#141414" stroke-width="2.0"/>
<line x1="646.5" y1="720.6" x2="650.4" y2="724.5" stroke="#141414" stroke-width="2.0"/>
<line x1="652.7" y1="720.6" x2="656" y2="723.9" stroke="#141414" stroke-width="2.0"/>
<line x1="584.5" y1="744.8" x2="587.9" y2="748.2" stroke="#141414" stroke-width="2.0"/>
<line x1="590.7" y1="744.8" x2="594.1" y2="748.2" stroke="#141414" stroke-width="2.0"/>
<line x1="596.9" y1="744.8" x2="600.3" y2="748.2" stroke="#141414" stroke-width="2.0"/>
<line x1="603.1" y1="744.8" x2="606.5" y2="748.2" stroke="#141414" stroke-width="2.0"/>
<line x1="609.3" y1="744.8" x2="612.7" y2="748.2" stroke="#141414" stroke-width="2.0"/>
<line x1="615.5" y1="744.8" x2="618.9" y2="748.2" stroke="#141414" stroke-width="2.0"/>
<line x1="621.7" y1="744.8" x2="625.1" y2="748.2" stroke="#141414" stroke-width="2.0"/>
<line x1="627.9" y1="744.8" x2="631.3" y2="748.2" stroke="#141414" stroke-width="2.0"/>
<line x1="634.1" y1="744.8" x2="637.5" y2="748.2" stroke="#141414" stroke-width="2.0"/>
<line x1="640.3" y1="744.8" x2="643.7" y2="748.2" stroke="#141414" stroke-width="2.0"/>
<line x1="646.5" y1="744.8" x2="649.9" y2="748.2" stroke="#141414" stroke-width="2.0"/>
<line x1="652.7" y1="744.8" x2="656" y2="748.1" stroke="#141414" stroke-width="2.0"/>
<line x1="597.5" y1="717.6" x2="600.3" y2="720.4" stroke="#141414" stroke-width="1.6"/>
<line x1="603.7" y1="717.6" x2="606.5" y2="720.4" stroke="#141414" stroke-width="1.6"/>
<line x1="609.9" y1="717.6" x2="612.7" y2="720.4" stroke="#141414" stroke-width="1.6"/>
<line x1="616.1" y1="717.6" x2="618.9" y2="720.4" stroke="#141414" stroke-width="1.6"/>
<line x1="622.3" y1="717.6" x2="625.1" y2="720.4" stroke="#141414" stroke-width="1.6"/>
<line x1="628.5" y1="717.6" x2="631.3" y2="720.4" stroke="#141414" stroke-width="1.6"/>
<line x1="634.7" y1="717.6" x2="637.5" y2="720.4" stroke="#141414" stroke-width="1.6"/>
<line x1="640.9" y1="717.6" x2="643.7" y2="720.4" stroke="#141414" stroke-width="1.6"/>
<line x1="597.5" y1="748.3" x2="600" y2="750.8" stroke="#141414" stroke-width="1.6"/>
<line x1="603.7" y1="748.3" x2="606.2" y2="750.8" stroke="#141414" stroke-width="1.6"/>
<line x1="609.9" y1="748.3" x2="612.4" y2="750.8" stroke="#141414" stroke-width="1.6"/>
<line x1="616.1" y1="748.3" x2="618.6" y2="750.8" stroke="#141414" stroke-width="1.6"/>
<line x1="622.3" y1="748.3" x2="624.8" y2="750.8" stroke="#141414" stroke-width="1.6"/>
<line x1="628.5" y1="748.3" x2="631" y2="750.8" stroke="#141414" stroke-width="1.6"/>
<line x1="634.7" y1="748.3" x2="637.2" y2="750.8" stroke="#141414" stroke-width="1.6"/>
<line x1="640.9" y1="748.3" x2="643.4" y2="750.8" stroke="#141414" stroke-width="1.6"/>
<line x1="574.2" y1="720.4" x2="574.2" y2="748.3" stroke="#141414" stroke-width="1.8"/>
<line x1="667.3" y1="720.4" x2="667.3" y2="748.3" stroke="#141414" stroke-width="1.8"/>
<line x1="578.7" y1="720.4" x2="578.7" y2="748.3" stroke="#141414" stroke-width="1.3"/>
<line x1="583.1" y1="720.4" x2="583.1" y2="748.3" stroke="#141414" stroke-width="1.3"/>
<line x1="607.1" y1="724.5" x2="607.1" y2="744.8" stroke="#141414" stroke-width="1.0"/>
<line x1="566" y1="734.6" x2="676" y2="734.6" stroke="#141414" stroke-width="1.0" stroke-dasharray="9 4"/>
<path d="M654,732 L633,732 Q630.2,732 630.2,734.6 Q630.2,737.3 633,737.3 L654,737.3" fill="none" stroke="#141414" stroke-width="1.3"/>
<line x1="634" y1="733.2" x2="654" y2="733.2" stroke="#555" stroke-width="0.7"/>
<line x1="634" y1="736.2" x2="654" y2="736.2" stroke="#555" stroke-width="0.7"/>
<rect x="654.1" y="724.9" width="8.9" height="19.5" rx="0" fill="none" stroke="#141414" stroke-width="1.4"/>
<line x1="658.5" y1="724.9" x2="658.5" y2="744.4" stroke="#141414" stroke-width="1.0"/>
<rect x="644.5" y="724.9" width="9.6" height="7.1" rx="0" fill="none" stroke="#141414" stroke-width="1.0"/>
<line x1="644.5" y1="732" x2="651.6" y2="724.9" stroke="#141414" stroke-width="1.2"/>
<line x1="647.1" y1="732" x2="654.1" y2="725" stroke="#141414" stroke-width="1.2"/>
<line x1="649.7" y1="732" x2="654.1" y2="727.6" stroke="#141414" stroke-width="1.2"/>
<line x1="652.3" y1="732" x2="654.1" y2="730.2" stroke="#141414" stroke-width="1.2"/>
<rect x="644.5" y="737.3" width="9.6" height="7.1" rx="0" fill="none" stroke="#141414" stroke-width="1.0"/>
<line x1="644.5" y1="744.4" x2="651.6" y2="737.3" stroke="#141414" stroke-width="1.2"/>
<line x1="647.1" y1="744.4" x2="654.1" y2="737.4" stroke="#141414" stroke-width="1.2"/>
<line x1="649.7" y1="744.4" x2="654.1" y2="740" stroke="#141414" stroke-width="1.2"/>
<line x1="652.3" y1="744.4" x2="654.1" y2="742.6" stroke="#141414" stroke-width="1.2"/>
<line x1="659" y1="728.8" x2="666.8" y2="724.8" stroke="#141414" stroke-width="1.1"/>
<line x1="659" y1="733.3" x2="666.8" y2="729.3" stroke="#141414" stroke-width="1.1"/>
<line x1="659" y1="740.3" x2="666.8" y2="736.3" stroke="#141414" stroke-width="1.1"/>
<line x1="659" y1="744.8" x2="666.8" y2="740.8" stroke="#141414" stroke-width="1.1"/>
<line x1="663" y1="720.4" x2="663" y2="748.3" stroke="#141414" stroke-width="1.0"/>
<line x1="545.8" y1="703.5" x2="545.8" y2="786.7" stroke="#141414" stroke-width="1.0"/>
<polygon points="545.8,723.3 544.25,716.3 547.35,716.3" fill="#0a0a0a"/>
<polygon points="545.8,746.6 547.35,753.6 544.25,753.6" fill="#0a0a0a"/>
<text transform="translate(541.75,785.75) rotate(-90)" font-size="11.17" textLength="22.5" lengthAdjust="spacingAndGlyphs" fill="#0a0a0a" stroke="#0a0a0a" stroke-width="0.7">ø 47</text>
<text transform="translate(534.15,759.05) rotate(-90)" font-size="6.01" textLength="14.5" lengthAdjust="spacingAndGlyphs" fill="#0a0a0a" font-weight="bold" stroke="#0a0a0a" stroke-width="0.7">-0.1</text>
<text x="557.05" y="768.65" font-size="13.27" textLength="13.6" lengthAdjust="spacingAndGlyphs" fill="#0a0a0a" stroke="#0a0a0a" stroke-width="0.7">25</text>
<line x1="555.7" y1="774.1" x2="593.1" y2="774.1" stroke="#141414" stroke-width="1.0"/>
<polygon points="574.4,774.1 567.4,775.65 567.4,772.55" fill="#0a0a0a"/>
<polygon points="583.9,774.1 590.9,772.55 590.9,775.65" fill="#0a0a0a"/>
<line x1="583.9" y1="746" x2="583.9" y2="808" stroke="#141414" stroke-width="1.0"/>
<text x="675.15" y="768.65" font-size="13.27" textLength="12.9" lengthAdjust="spacingAndGlyphs" fill="#0a0a0a" stroke="#0a0a0a" stroke-width="0.7">25</text>
<line x1="637.3" y1="774.1" x2="688.4" y2="774.1" stroke="#141414" stroke-width="1.0"/>
<polygon points="657.8,774.1 649.8,775.65 649.8,772.55" fill="#0a0a0a"/>
<polygon points="667,774.1 675,772.55 675,775.65" fill="#0a0a0a"/>
<text x="590.05" y="799.35" font-size="12.29" textLength="12.9" lengthAdjust="spacingAndGlyphs" fill="#0a0a0a" stroke="#0a0a0a" stroke-width="0.7">42</text>
<line x1="564.2" y1="803.1" x2="628.8" y2="803.1" stroke="#141414" stroke-width="1.0"/>
<polygon points="584,803.1 576,804.65 576,801.55" fill="#0a0a0a"/>
<polygon points="607.8,803.1 615.8,801.55 615.8,804.65" fill="#0a0a0a"/>
<line x1="607.8" y1="746" x2="607.8" y2="808" stroke="#141414" stroke-width="1.0"/>
<polygon points="699.6,701 762.2,701 752,733.3 689,733.3" fill="none" stroke="#141414" stroke-width="1.3" stroke-linejoin="miter"/>
<text x="700.65" y="715.25" font-size="12.43" textLength="43.5" lengthAdjust="spacingAndGlyphs" fill="#0a0a0a" stroke="#0a0a0a" stroke-width="0.7">ISO 4762</text>
<text x="695.55" y="729.65" font-size="13.41" textLength="55.4" lengthAdjust="spacingAndGlyphs" fill="#0a0a0a" stroke="#0a0a0a" stroke-width="0.7">M16x50-8.8</text>
<polyline points="693.5,716.3 673,723 661,728" fill="none" stroke="#141414" stroke-width="1.0" stroke-linejoin="miter"/>
<text x="601.95" y="825.65" font-size="13.41" textLength="18" lengthAdjust="spacingAndGlyphs" fill="#0a0a0a" stroke="#0a0a0a" stroke-width="0.7">130</text>
<line x1="574.4" y1="828.6" x2="645.2" y2="828.6" stroke="#141414" stroke-width="1.0"/>
<polygon points="574.4,828.6 582.4,827.05 582.4,830.15" fill="#0a0a0a"/>
<polygon points="645.2,828.6 637.2,830.15 637.2,827.05" fill="#0a0a0a"/>
<line x1="645.2" y1="824" x2="645.2" y2="879.3" stroke="#141414" stroke-width="1.0"/>
<line x1="539" y1="850.5" x2="570.5" y2="850.5" stroke="#141414" stroke-width="1.0"/>
<line x1="539" y1="880.5" x2="570.5" y2="880.5" stroke="#141414" stroke-width="1.0"/>
<line x1="575.5" y1="852.8" x2="645.2" y2="852.8" stroke="#141414" stroke-width="1.3"/>
<line x1="575.5" y1="878.1" x2="645.2" y2="878.1" stroke="#141414" stroke-width="1.3"/>
<line x1="575.5" y1="857.2" x2="645.2" y2="857.2" stroke="#141414" stroke-width="1.1"/>
<line x1="575.5" y1="873.6" x2="645.2" y2="873.6" stroke="#141414" stroke-width="1.1"/>
<rect x="570.6" y="850.4" width="4.6" height="30" rx="0" fill="#1a1a1a" stroke="#141414" stroke-width="1.0"/>
<line x1="572.9" y1="852" x2="572.9" y2="879" stroke="#888" stroke-width="0.6"/>
<line x1="645.2" y1="852.8" x2="645.2" y2="878.1" stroke="#141414" stroke-width="1.3"/>
<line x1="551" y1="865.2" x2="563.5" y2="865.2" stroke="#141414" stroke-width="1.0"/>
<line x1="575" y1="865.2" x2="581.5" y2="865.2" stroke="#141414" stroke-width="1.0"/>
<line x1="588" y1="865.2" x2="662" y2="865.2" stroke="#141414" stroke-width="1.0" stroke-dasharray="12 5"/>
<path d="M570.5,852.3 L559.2,852.3 Q556.2,854.5 555.9,857.5 Q555.6,860.5 556.4,862.6" fill="none" stroke="#141414" stroke-width="1.3"/>
<line x1="560.8" y1="878.5" x2="570.5" y2="878.5" stroke="#141414" stroke-width="1.3"/>
<path d="M555.9,863.4 Q553,867 553.3,870.6 Q555,875.5 557.2,877.6 Q560.5,876.5 561.3,875 Q562,871 561.6,868.7 Q560,865 559,864.3 Q557.5,863.2 555.9,863.4 Z" fill="none" stroke="#141414" stroke-width="1.4"/>
<line x1="554.6" y1="866" x2="560.8" y2="873.5" stroke="#141414" stroke-width="1.5"/>
<line x1="553.6" y1="869.8" x2="558.8" y2="876.3" stroke="#141414" stroke-width="1.5"/>
<line x1="643" y1="863" x2="647.4" y2="867.4" stroke="#141414" stroke-width="0.8"/>
<line x1="643" y1="867.4" x2="647.4" y2="863" stroke="#141414" stroke-width="0.8"/>
<line x1="543.8" y1="831" x2="543.8" y2="922.9" stroke="#141414" stroke-width="1.0"/>
<polygon points="543.8,850.7 542.25,843.7 545.35,843.7" fill="#0a0a0a"/>
<polygon points="543.8,879.3 545.35,886.3 542.25,886.3" fill="#0a0a0a"/>
<text transform="translate(536.65,922.55) rotate(-90)" font-size="13.27" textLength="26.6" lengthAdjust="spacingAndGlyphs" fill="#0a0a0a" stroke="#0a0a0a" stroke-width="0.7">ø 52</text>
<text transform="translate(539.15,896.65) rotate(-90)" font-size="6.01" textLength="15.8" lengthAdjust="spacingAndGlyphs" fill="#0a0a0a" font-weight="bold" stroke="#0a0a0a" stroke-width="0.7">min</text>
<rect x="645.2" y="787.5" width="81.6" height="32.6" rx="16.3" fill="none" stroke="#141414" stroke-width="1.3"/>
<text x="664.95" y="800.75" font-size="11.87" textLength="43.5" lengthAdjust="spacingAndGlyphs" fill="#0a0a0a" stroke="#0a0a0a" stroke-width="0.7">DIN 5480</text>
<text x="659.15" y="815.35" font-size="10.89" textLength="56.1" lengthAdjust="spacingAndGlyphs" fill="#0a0a0a" stroke="#0a0a0a" stroke-width="0.7">45x2x30x21</text>
<polyline points="645.2,803.8 637.3,803.8 620.3,861.6" fill="none" stroke="#141414" stroke-width="1.0" stroke-linejoin="miter"/>
<rect x="566.9" y="895" width="83.4" height="33" rx="16.5" fill="none" stroke="#141414" stroke-width="1.3"/>
<text x="589.35" y="908.25" font-size="12.43" textLength="38.5" lengthAdjust="spacingAndGlyphs" fill="#0a0a0a" stroke="#0a0a0a" stroke-width="0.7">DIN 332</text>
<text x="591.05" y="923.15" font-size="11.73" textLength="35.7" lengthAdjust="spacingAndGlyphs" fill="#0a0a0a" stroke="#0a0a0a" stroke-width="0.7">D.. M16</text>
<polyline points="650.3,911 659.5,911 659.5,878.6 645.9,864.4" fill="none" stroke="#141414" stroke-width="1.0" stroke-linejoin="miter"/>
<polygon points="699.7,851.6 702.1,851.6 702.1,854.4 705.1,854.4 705.1,857.2 707.7,857.2 707.7,859.8 710.5,859.8 710.5,862.8 712.9,862.8 712.9,865.2 712.9,865.2 712.9,867.6 710.5,867.6 710.5,870.6 707.7,870.6 707.7,873.2 705.1,873.2 705.1,876 702.1,876 702.1,878.8 699.7,878.8 699.7,878.8 697.3,878.8 697.3,876 694.3,876 694.3,873.2 691.7,873.2 691.7,870.6 688.9,870.6 688.9,867.6 686.5,867.6 686.5,865.2 686.5,865.2 686.5,862.8 688.9,862.8 688.9,859.8 691.7,859.8 691.7,857.2 694.3,857.2 694.3,854.4 697.3,854.4 697.3,851.6 699.7,851.6" fill="none" stroke="#141414" stroke-width="1.1" stroke-linejoin="miter"/>
<line x1="699.7" y1="851.6" x2="699.7" y2="865.2" stroke="#141414" stroke-width="1.0"/>
<line x1="699.6" y1="865.2" x2="712.6" y2="865.2" stroke="#141414" stroke-width="1.0"/>
<line x1="681" y1="865.2" x2="691" y2="865.2" stroke="#141414" stroke-width="1.0"/>
<line x1="717" y1="865.2" x2="720" y2="865.2" stroke="#141414" stroke-width="1.0"/>
<line x1="699.7" y1="846" x2="699.7" y2="848.5" stroke="#141414" stroke-width="1.0"/>
<line x1="699.6" y1="852.5" x2="771.7" y2="852.5" stroke="#141414" stroke-width="1.0"/>
<line x1="699.6" y1="880.3" x2="771.7" y2="880.3" stroke="#141414" stroke-width="1.0"/>
<line x1="762.7" y1="758" x2="762.7" y2="899" stroke="#141414" stroke-width="1.0"/>
<polygon points="762.7,852.5 761.15,845.5 764.25,845.5" fill="#0a0a0a"/>
<polygon points="762.7,880.3 764.25,887.3 761.15,887.3" fill="#0a0a0a"/>
<line x1="698" y1="877" x2="698" y2="923" stroke="#141414" stroke-width="1.0"/>
<line x1="700.7" y1="877" x2="700.7" y2="923" stroke="#141414" stroke-width="1.0"/>
<line x1="678.2" y1="911" x2="751.3" y2="911" stroke="#141414" stroke-width="1.0"/>
<polygon points="697.6,911 690.6,912.55 690.6,909.45" fill="#0a0a0a"/>
<polygon points="701,911 708,909.45 708,912.55" fill="#0a0a0a"/>
<text x="705.4" y="908.6" font-size="14" fill="#111" stroke="#111" stroke-width="0.65" textLength="44.2" lengthAdjust="spacingAndGlyphs">D<tspan font-size="9" dy="2.5">m</tspan><tspan dy="-2.5"> = ø 4</tspan></text>
<text transform="translate(757.2,846.6) rotate(-90)" font-size="12.6" fill="#111" stroke="#111" stroke-width="0.65" textLength="66.4" lengthAdjust="spacingAndGlyphs">M<tspan font-size="8.5" dy="2">e</tspan><tspan dy="-2"> = ø 48.85</tspan></text>
<text transform="translate(761.05,778.65) rotate(-90)" font-size="4.89" textLength="18.3" lengthAdjust="spacingAndGlyphs" fill="#0a0a0a" font-weight="bold" stroke="#0a0a0a" stroke-width="0.7">-0.08</text>
</svg>
</body></html>
